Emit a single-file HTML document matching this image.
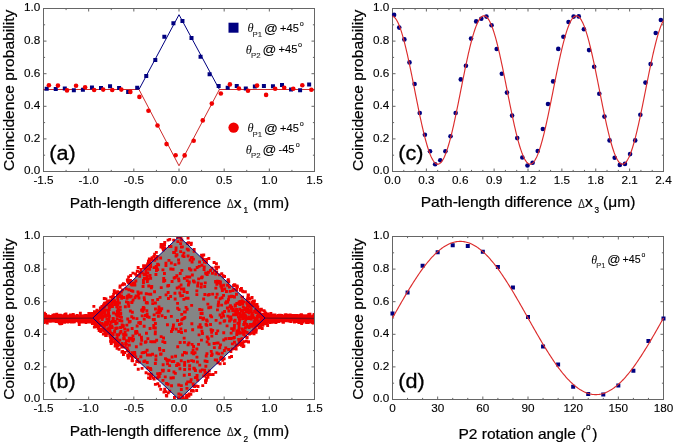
<!DOCTYPE html>
<html><head><meta charset="utf-8"><style>
html,body{margin:0;padding:0;background:#fff;overflow:hidden}
svg{display:block;will-change:transform}
.t{font-family:"Liberation Sans", sans-serif;font-size:11.2px;fill:#000;stroke:#000;stroke-width:0.12px}
.ax{font-family:"Liberation Sans", sans-serif;font-size:14.8px;fill:#000;stroke:#000;stroke-width:0.2px}
.pl{font-family:"Liberation Sans", sans-serif;font-size:21px;fill:#000;stroke:#000;stroke-width:0.3px}
.lg{font-family:"Liberation Sans", sans-serif;font-size:10.5px;fill:#000;stroke:#000;stroke-width:0.1px}
.th{font-family:"Liberation Serif", serif;font-style:italic;font-size:12px}
.dl{font-size:12.5px;fill:#444}
</style></head><body>
<svg width="675" height="445" viewBox="0 0 675 445">
<rect width="675" height="445" fill="#fff"/>
<path d="M43.50 171.5v-3M43.50 8.5v3M66.08 171.5v-1.6M66.08 8.5v1.6M88.67 171.5v-3M88.67 8.5v3M111.25 171.5v-1.6M111.25 8.5v1.6M133.83 171.5v-3M133.83 8.5v3M156.42 171.5v-1.6M156.42 8.5v1.6M179.00 171.5v-3M179.00 8.5v3M201.58 171.5v-1.6M201.58 8.5v1.6M224.17 171.5v-3M224.17 8.5v3M246.75 171.5v-1.6M246.75 8.5v1.6M269.33 171.5v-3M269.33 8.5v3M291.92 171.5v-1.6M291.92 8.5v1.6M314.50 171.5v-3M314.50 8.5v3M43.5 171.50h3M314.5 171.50h-3M43.5 155.20h1.6M314.5 155.20h-1.6M43.5 138.90h3M314.5 138.90h-3M43.5 122.60h1.6M314.5 122.60h-1.6M43.5 106.30h3M314.5 106.30h-3M43.5 90.00h1.6M314.5 90.00h-1.6M43.5 73.70h3M314.5 73.70h-3M43.5 57.40h1.6M314.5 57.40h-1.6M43.5 41.10h3M314.5 41.10h-3M43.5 24.80h1.6M314.5 24.80h-1.6M43.5 8.50h3M314.5 8.50h-3" stroke="#666" stroke-width="1" fill="none"/>
<rect x="43.5" y="8.5" width="271.0" height="163.0" stroke="#666" stroke-width="1" fill="none"/>
<path d="M43.50 89.50 L138.98 89.50 L179.00 14.69 L219.38 89.50 L314.50 89.50" stroke="#000080" stroke-width="1.0" fill="none" stroke-linejoin="round"/>
<path d="M43.50 89.50 L138.98 89.50 L179.00 165.79 L219.38 89.50 L314.50 89.50" stroke="#cc2b2b" stroke-width="1.0" fill="none" stroke-linejoin="round"/>
<path d="M44.70 86.80h4.0v4.0h-4.0zM53.75 87.00h4.0v4.0h-4.0zM62.80 86.50h4.0v4.0h-4.0zM71.85 88.30h4.0v4.0h-4.0zM80.90 87.70h4.0v4.0h-4.0zM89.95 85.50h4.0v4.0h-4.0zM99.00 86.10h4.0v4.0h-4.0zM108.05 84.30h4.0v4.0h-4.0zM117.10 86.10h4.0v4.0h-4.0zM126.15 89.90h4.0v4.0h-4.0zM135.20 85.70h4.0v4.0h-4.0zM144.25 74.10h4.0v4.0h-4.0zM153.30 57.90h4.0v4.0h-4.0zM162.35 34.80h4.0v4.0h-4.0zM171.40 21.30h4.0v4.0h-4.0zM180.45 18.90h4.0v4.0h-4.0zM189.50 36.10h4.0v4.0h-4.0zM198.55 54.70h4.0v4.0h-4.0zM207.60 72.30h4.0v4.0h-4.0zM216.65 84.00h4.0v4.0h-4.0zM225.70 85.80h4.0v4.0h-4.0zM234.75 84.00h4.0v4.0h-4.0zM243.80 86.50h4.0v4.0h-4.0zM252.85 84.60h4.0v4.0h-4.0zM261.90 83.90h4.0v4.0h-4.0zM270.95 84.30h4.0v4.0h-4.0zM280.00 83.10h4.0v4.0h-4.0zM289.05 87.60h4.0v4.0h-4.0zM298.10 88.30h4.0v4.0h-4.0zM307.15 82.50h4.0v4.0h-4.0z" fill="#000080"/>
<circle cx="48.90" cy="85.30" r="2.3" fill="#f00000"/>
<circle cx="57.95" cy="85.60" r="2.3" fill="#f00000"/>
<circle cx="67.00" cy="90.40" r="2.3" fill="#f00000"/>
<circle cx="76.05" cy="85.70" r="2.3" fill="#f00000"/>
<circle cx="85.10" cy="87.30" r="2.3" fill="#f00000"/>
<circle cx="94.15" cy="90.00" r="2.3" fill="#f00000"/>
<circle cx="103.20" cy="89.60" r="2.3" fill="#f00000"/>
<circle cx="112.25" cy="90.00" r="2.3" fill="#f00000"/>
<circle cx="121.30" cy="89.60" r="2.3" fill="#f00000"/>
<circle cx="130.35" cy="91.90" r="2.3" fill="#f00000"/>
<circle cx="139.40" cy="96.90" r="2.3" fill="#f00000"/>
<circle cx="148.45" cy="110.70" r="2.3" fill="#f00000"/>
<circle cx="157.50" cy="125.50" r="2.3" fill="#f00000"/>
<circle cx="166.55" cy="144.10" r="2.3" fill="#f00000"/>
<circle cx="175.60" cy="155.20" r="2.3" fill="#f00000"/>
<circle cx="184.65" cy="155.40" r="2.3" fill="#f00000"/>
<circle cx="193.70" cy="140.70" r="2.3" fill="#f00000"/>
<circle cx="202.75" cy="120.40" r="2.3" fill="#f00000"/>
<circle cx="211.80" cy="103.60" r="2.3" fill="#f00000"/>
<circle cx="220.85" cy="93.50" r="2.3" fill="#f00000"/>
<circle cx="229.90" cy="84.40" r="2.3" fill="#f00000"/>
<circle cx="238.95" cy="88.50" r="2.3" fill="#f00000"/>
<circle cx="248.00" cy="90.70" r="2.3" fill="#f00000"/>
<circle cx="257.05" cy="85.60" r="2.3" fill="#f00000"/>
<circle cx="266.10" cy="94.90" r="2.3" fill="#f00000"/>
<circle cx="275.15" cy="88.80" r="2.3" fill="#f00000"/>
<circle cx="284.20" cy="87.80" r="2.3" fill="#f00000"/>
<circle cx="293.25" cy="88.80" r="2.3" fill="#f00000"/>
<circle cx="302.30" cy="85.30" r="2.3" fill="#f00000"/>
<circle cx="311.35" cy="89.70" r="2.3" fill="#f00000"/>
<rect x="228.5" y="22.7" width="10" height="10" fill="#000080"/>
<circle cx="233.6" cy="127.6" r="5.2" fill="#f00000"/>
<text x="247.40" y="31.90" class="th" style="font-size:12.40px">&#952;</text>
<text x="252.60" y="36.50" class="lg" style="font-size:7.80px;fill:#333">P1</text>
<text transform="translate(264.10,32.55) scale(1.1,1)" class="lg" style="font-size:12.40px">@</text>
<text transform="translate(280.10,31.60) scale(1.01,1)" class="lg" style="font-size:11.00px">+45</text>
<text x="299.70" y="25.50" class="lg" style="font-size:7.20px">o</text>
<text x="245.80" y="53.50" class="th" style="font-size:12.40px">&#952;</text>
<text x="251.00" y="58.10" class="lg" style="font-size:7.80px;fill:#333">P2</text>
<text transform="translate(262.50,54.15) scale(1.1,1)" class="lg" style="font-size:12.40px">@</text>
<text transform="translate(278.50,53.20) scale(1.01,1)" class="lg" style="font-size:11.00px">+45</text>
<text x="298.10" y="47.10" class="lg" style="font-size:7.20px">o</text>
<text x="247.40" y="131.90" class="th" style="font-size:12.40px">&#952;</text>
<text x="252.60" y="136.50" class="lg" style="font-size:7.80px;fill:#333">P1</text>
<text transform="translate(264.10,132.55) scale(1.1,1)" class="lg" style="font-size:12.40px">@</text>
<text transform="translate(280.10,131.60) scale(1.01,1)" class="lg" style="font-size:11.00px">+45</text>
<text x="299.70" y="125.50" class="lg" style="font-size:7.20px">o</text>
<text x="245.80" y="153.60" class="th" style="font-size:12.40px">&#952;</text>
<text x="251.00" y="158.20" class="lg" style="font-size:7.80px;fill:#333">P2</text>
<text transform="translate(262.50,154.25) scale(1.1,1)" class="lg" style="font-size:12.40px">@</text>
<text transform="translate(278.50,153.30) scale(1.01,1)" class="lg" style="font-size:11.00px">-45</text>
<text x="295.80" y="147.20" class="lg" style="font-size:7.20px">o</text>
<path d="M43.50 399.5v-3M43.50 236.5v3M66.08 399.5v-1.6M66.08 236.5v1.6M88.67 399.5v-3M88.67 236.5v3M111.25 399.5v-1.6M111.25 236.5v1.6M133.83 399.5v-3M133.83 236.5v3M156.42 399.5v-1.6M156.42 236.5v1.6M179.00 399.5v-3M179.00 236.5v3M201.58 399.5v-1.6M201.58 236.5v1.6M224.17 399.5v-3M224.17 236.5v3M246.75 399.5v-1.6M246.75 236.5v1.6M269.33 399.5v-3M269.33 236.5v3M291.92 399.5v-1.6M291.92 236.5v1.6M314.50 399.5v-3M314.50 236.5v3M43.5 399.50h3M314.5 399.50h-3M43.5 383.20h1.6M314.5 383.20h-1.6M43.5 366.90h3M314.5 366.90h-3M43.5 350.60h1.6M314.5 350.60h-1.6M43.5 334.30h3M314.5 334.30h-3M43.5 318.00h1.6M314.5 318.00h-1.6M43.5 301.70h3M314.5 301.70h-3M43.5 285.40h1.6M314.5 285.40h-1.6M43.5 269.10h3M314.5 269.10h-3M43.5 252.80h1.6M314.5 252.80h-1.6M43.5 236.50h3M314.5 236.50h-3" stroke="#666" stroke-width="1" fill="none"/>
<rect x="43.5" y="236.5" width="271.0" height="163.0" stroke="#666" stroke-width="1" fill="none"/>
<path d="M92.91 318.00 L179.00 236.50 L265.09 318.00 L179.00 399.50Z" fill="#858585"/>
<clipPath id="cb"><rect x="44" y="237" width="270" height="162"/></clipPath>
<path d="M310.5 317.5h2.9v2.9h-2.9zM73.6 316.7h2.9v2.9h-2.9zM46.5 316.9h2.9v2.9h-2.9zM266.8 316.3h2.9v2.9h-2.9zM64.4 315.0h2.9v2.9h-2.9zM60.4 316.2h2.9v2.9h-2.9zM63.1 320.8h2.9v2.9h-2.9zM64.1 314.2h2.9v2.9h-2.9zM77.3 316.5h2.9v2.9h-2.9zM291.2 316.4h2.9v2.9h-2.9zM86.6 318.0h2.9v2.9h-2.9zM64.5 317.5h2.9v2.9h-2.9zM63.7 318.5h2.9v2.9h-2.9zM302.0 318.4h2.9v2.9h-2.9zM292.5 318.4h2.9v2.9h-2.9zM57.0 316.6h2.9v2.9h-2.9zM87.7 317.7h2.9v2.9h-2.9zM299.6 315.1h2.9v2.9h-2.9zM293.6 315.2h2.9v2.9h-2.9zM54.1 316.1h2.9v2.9h-2.9zM45.4 320.9h2.9v2.9h-2.9zM53.7 315.0h2.9v2.9h-2.9zM280.3 318.2h2.9v2.9h-2.9zM266.8 315.4h2.9v2.9h-2.9zM44.8 319.5h2.9v2.9h-2.9zM55.4 316.6h2.9v2.9h-2.9zM295.5 313.9h2.9v2.9h-2.9zM299.0 317.2h2.9v2.9h-2.9zM264.5 318.0h2.9v2.9h-2.9zM67.2 316.8h2.9v2.9h-2.9zM53.6 316.2h2.9v2.9h-2.9zM308.9 316.1h2.9v2.9h-2.9zM267.4 319.1h2.9v2.9h-2.9zM51.0 316.4h2.9v2.9h-2.9zM298.5 314.5h2.9v2.9h-2.9zM310.9 317.3h2.9v2.9h-2.9zM87.6 315.6h2.9v2.9h-2.9zM67.6 315.0h2.9v2.9h-2.9zM78.7 315.3h2.9v2.9h-2.9zM293.7 317.0h2.9v2.9h-2.9zM310.7 317.8h2.9v2.9h-2.9zM69.0 319.0h2.9v2.9h-2.9zM283.1 318.6h2.9v2.9h-2.9zM266.5 315.8h2.9v2.9h-2.9zM42.8 317.8h2.9v2.9h-2.9zM86.6 316.7h2.9v2.9h-2.9zM65.1 314.8h2.9v2.9h-2.9zM48.3 317.8h2.9v2.9h-2.9zM270.7 317.1h2.9v2.9h-2.9zM286.9 315.5h2.9v2.9h-2.9zM49.6 315.1h2.9v2.9h-2.9zM278.9 317.1h2.9v2.9h-2.9zM86.7 317.8h2.9v2.9h-2.9zM66.1 315.9h2.9v2.9h-2.9zM44.5 318.0h2.9v2.9h-2.9zM54.1 317.2h2.9v2.9h-2.9zM312.0 315.3h2.9v2.9h-2.9zM289.1 319.0h2.9v2.9h-2.9zM74.1 316.7h2.9v2.9h-2.9zM295.0 314.9h2.9v2.9h-2.9zM51.7 315.9h2.9v2.9h-2.9zM81.8 319.6h2.9v2.9h-2.9zM281.0 316.6h2.9v2.9h-2.9zM286.8 317.0h2.9v2.9h-2.9zM57.3 315.2h2.9v2.9h-2.9zM310.8 317.5h2.9v2.9h-2.9zM267.4 315.5h2.9v2.9h-2.9zM273.5 315.9h2.9v2.9h-2.9zM67.9 318.8h2.9v2.9h-2.9zM50.3 319.6h2.9v2.9h-2.9zM46.5 316.5h2.9v2.9h-2.9zM307.5 319.8h2.9v2.9h-2.9zM302.6 318.6h2.9v2.9h-2.9zM286.4 314.4h2.9v2.9h-2.9zM55.7 316.6h2.9v2.9h-2.9zM62.4 316.3h2.9v2.9h-2.9zM303.4 315.1h2.9v2.9h-2.9zM296.0 314.5h2.9v2.9h-2.9zM271.1 317.4h2.9v2.9h-2.9zM65.6 317.1h2.9v2.9h-2.9zM70.2 314.8h2.9v2.9h-2.9zM90.3 319.3h2.9v2.9h-2.9zM77.2 316.9h2.9v2.9h-2.9zM290.4 314.8h2.9v2.9h-2.9zM88.7 317.3h2.9v2.9h-2.9zM304.5 320.7h2.9v2.9h-2.9zM65.3 317.4h2.9v2.9h-2.9zM301.9 317.1h2.9v2.9h-2.9zM53.2 316.5h2.9v2.9h-2.9zM64.1 316.3h2.9v2.9h-2.9zM297.3 319.0h2.9v2.9h-2.9zM47.9 317.4h2.9v2.9h-2.9zM79.4 317.5h2.9v2.9h-2.9zM291.3 314.1h2.9v2.9h-2.9zM69.7 318.6h2.9v2.9h-2.9zM57.3 318.4h2.9v2.9h-2.9zM288.6 316.3h2.9v2.9h-2.9zM57.0 318.9h2.9v2.9h-2.9zM309.2 316.1h2.9v2.9h-2.9zM270.2 317.8h2.9v2.9h-2.9zM72.2 318.1h2.9v2.9h-2.9zM267.0 314.7h2.9v2.9h-2.9zM302.3 316.2h2.9v2.9h-2.9zM270.5 317.6h2.9v2.9h-2.9zM43.7 316.2h2.9v2.9h-2.9zM307.3 312.9h2.9v2.9h-2.9zM42.6 316.5h2.9v2.9h-2.9zM312.8 317.9h2.9v2.9h-2.9zM280.2 316.5h2.9v2.9h-2.9zM264.3 315.6h2.9v2.9h-2.9zM285.3 315.5h2.9v2.9h-2.9zM288.8 316.9h2.9v2.9h-2.9zM86.1 316.0h2.9v2.9h-2.9zM87.6 317.6h2.9v2.9h-2.9zM265.3 316.8h2.9v2.9h-2.9zM51.0 318.4h2.9v2.9h-2.9zM283.5 319.0h2.9v2.9h-2.9zM298.2 317.5h2.9v2.9h-2.9zM77.9 316.7h2.9v2.9h-2.9zM78.4 318.1h2.9v2.9h-2.9zM60.2 316.8h2.9v2.9h-2.9zM88.4 317.7h2.9v2.9h-2.9zM69.2 318.2h2.9v2.9h-2.9zM294.3 315.2h2.9v2.9h-2.9zM65.6 317.0h2.9v2.9h-2.9zM78.7 316.2h2.9v2.9h-2.9zM81.7 317.6h2.9v2.9h-2.9zM77.3 315.7h2.9v2.9h-2.9zM78.3 315.2h2.9v2.9h-2.9zM91.0 322.2h2.9v2.9h-2.9zM66.2 317.0h2.9v2.9h-2.9zM296.0 315.2h2.9v2.9h-2.9zM311.6 317.5h2.9v2.9h-2.9zM74.7 315.9h2.9v2.9h-2.9zM71.6 317.4h2.9v2.9h-2.9zM91.0 316.6h2.9v2.9h-2.9zM284.8 314.7h2.9v2.9h-2.9zM306.6 316.2h2.9v2.9h-2.9zM293.1 317.2h2.9v2.9h-2.9zM83.9 317.5h2.9v2.9h-2.9zM263.5 318.0h2.9v2.9h-2.9zM275.5 315.9h2.9v2.9h-2.9zM274.2 316.4h2.9v2.9h-2.9zM68.2 315.6h2.9v2.9h-2.9zM79.4 316.9h2.9v2.9h-2.9zM84.6 317.8h2.9v2.9h-2.9zM72.2 317.8h2.9v2.9h-2.9zM62.6 314.7h2.9v2.9h-2.9zM59.1 317.8h2.9v2.9h-2.9zM301.3 320.5h2.9v2.9h-2.9zM270.8 317.4h2.9v2.9h-2.9zM50.8 319.5h2.9v2.9h-2.9zM299.8 316.7h2.9v2.9h-2.9zM50.7 317.9h2.9v2.9h-2.9zM87.5 314.7h2.9v2.9h-2.9zM73.0 316.4h2.9v2.9h-2.9zM291.1 318.7h2.9v2.9h-2.9zM67.4 318.8h2.9v2.9h-2.9zM69.0 313.4h2.9v2.9h-2.9zM59.0 315.3h2.9v2.9h-2.9zM54.7 320.1h2.9v2.9h-2.9zM275.0 316.5h2.9v2.9h-2.9zM80.3 318.2h2.9v2.9h-2.9zM267.2 318.6h2.9v2.9h-2.9zM301.5 318.9h2.9v2.9h-2.9zM61.9 318.7h2.9v2.9h-2.9zM276.0 317.1h2.9v2.9h-2.9zM91.1 318.5h2.9v2.9h-2.9zM67.6 316.3h2.9v2.9h-2.9zM58.2 317.2h2.9v2.9h-2.9zM298.6 317.5h2.9v2.9h-2.9zM42.4 315.2h2.9v2.9h-2.9zM76.2 315.4h2.9v2.9h-2.9zM286.2 316.0h2.9v2.9h-2.9zM312.8 319.9h2.9v2.9h-2.9zM88.0 314.5h2.9v2.9h-2.9zM84.7 321.2h2.9v2.9h-2.9zM61.8 317.7h2.9v2.9h-2.9zM307.4 317.4h2.9v2.9h-2.9zM282.9 318.2h2.9v2.9h-2.9zM91.6 318.9h2.9v2.9h-2.9zM299.5 316.9h2.9v2.9h-2.9zM280.5 318.4h2.9v2.9h-2.9zM75.6 314.0h2.9v2.9h-2.9zM305.1 314.2h2.9v2.9h-2.9zM46.9 314.4h2.9v2.9h-2.9zM275.9 315.5h2.9v2.9h-2.9zM73.8 316.4h2.9v2.9h-2.9zM300.9 316.2h2.9v2.9h-2.9zM50.3 318.1h2.9v2.9h-2.9zM294.9 314.3h2.9v2.9h-2.9zM288.8 313.4h2.9v2.9h-2.9zM53.3 316.6h2.9v2.9h-2.9zM51.4 318.8h2.9v2.9h-2.9zM308.7 315.0h2.9v2.9h-2.9zM89.3 317.8h2.9v2.9h-2.9zM285.8 317.0h2.9v2.9h-2.9zM287.5 319.5h2.9v2.9h-2.9zM83.2 318.2h2.9v2.9h-2.9zM300.1 316.3h2.9v2.9h-2.9zM283.5 316.9h2.9v2.9h-2.9zM269.3 315.1h2.9v2.9h-2.9zM88.0 320.2h2.9v2.9h-2.9zM69.2 317.1h2.9v2.9h-2.9zM312.9 317.9h2.9v2.9h-2.9zM79.6 316.7h2.9v2.9h-2.9zM74.7 316.0h2.9v2.9h-2.9zM303.6 316.4h2.9v2.9h-2.9zM47.7 317.0h2.9v2.9h-2.9zM300.4 318.8h2.9v2.9h-2.9zM73.0 317.4h2.9v2.9h-2.9zM291.9 316.5h2.9v2.9h-2.9zM269.6 319.5h2.9v2.9h-2.9zM87.1 317.1h2.9v2.9h-2.9zM72.6 318.1h2.9v2.9h-2.9zM305.5 318.5h2.9v2.9h-2.9zM85.4 319.6h2.9v2.9h-2.9zM311.5 315.7h2.9v2.9h-2.9zM263.4 320.1h2.9v2.9h-2.9zM311.7 314.6h2.9v2.9h-2.9zM52.8 316.9h2.9v2.9h-2.9zM45.0 316.1h2.9v2.9h-2.9zM267.6 317.0h2.9v2.9h-2.9zM80.2 317.1h2.9v2.9h-2.9zM59.7 317.3h2.9v2.9h-2.9zM289.6 316.2h2.9v2.9h-2.9zM298.1 316.5h2.9v2.9h-2.9zM72.5 316.6h2.9v2.9h-2.9zM52.5 314.9h2.9v2.9h-2.9zM277.2 317.0h2.9v2.9h-2.9zM295.4 315.6h2.9v2.9h-2.9zM64.6 318.3h2.9v2.9h-2.9zM44.0 317.5h2.9v2.9h-2.9zM82.1 318.4h2.9v2.9h-2.9zM267.4 316.8h2.9v2.9h-2.9zM274.6 315.3h2.9v2.9h-2.9zM57.2 317.4h2.9v2.9h-2.9zM273.2 318.6h2.9v2.9h-2.9zM300.1 318.2h2.9v2.9h-2.9zM76.2 317.1h2.9v2.9h-2.9zM80.3 316.5h2.9v2.9h-2.9zM268.8 314.2h2.9v2.9h-2.9zM293.7 315.5h2.9v2.9h-2.9zM44.6 318.2h2.9v2.9h-2.9zM45.9 316.7h2.9v2.9h-2.9zM71.1 316.9h2.9v2.9h-2.9zM82.6 319.6h2.9v2.9h-2.9zM299.8 316.2h2.9v2.9h-2.9zM45.4 317.6h2.9v2.9h-2.9zM265.0 316.1h2.9v2.9h-2.9zM305.1 315.2h2.9v2.9h-2.9zM91.6 317.2h2.9v2.9h-2.9zM267.4 320.2h2.9v2.9h-2.9zM72.8 315.3h2.9v2.9h-2.9zM304.2 317.5h2.9v2.9h-2.9zM273.1 316.8h2.9v2.9h-2.9zM273.0 319.4h2.9v2.9h-2.9zM60.4 314.3h2.9v2.9h-2.9zM51.4 317.0h2.9v2.9h-2.9zM68.7 317.5h2.9v2.9h-2.9zM79.0 317.1h2.9v2.9h-2.9zM281.4 320.7h2.9v2.9h-2.9zM310.9 318.0h2.9v2.9h-2.9zM309.3 317.9h2.9v2.9h-2.9zM263.6 316.9h2.9v2.9h-2.9zM90.5 320.9h2.9v2.9h-2.9zM86.4 317.5h2.9v2.9h-2.9zM302.6 318.9h2.9v2.9h-2.9zM303.8 315.7h2.9v2.9h-2.9zM51.9 315.6h2.9v2.9h-2.9zM304.2 316.7h2.9v2.9h-2.9zM306.2 319.4h2.9v2.9h-2.9zM281.3 316.9h2.9v2.9h-2.9zM72.3 317.7h2.9v2.9h-2.9zM79.4 316.6h2.9v2.9h-2.9zM271.4 316.9h2.9v2.9h-2.9zM307.3 315.7h2.9v2.9h-2.9zM81.4 317.1h2.9v2.9h-2.9zM288.1 317.5h2.9v2.9h-2.9zM85.1 318.8h2.9v2.9h-2.9zM294.2 318.3h2.9v2.9h-2.9zM53.0 319.6h2.9v2.9h-2.9zM278.0 318.5h2.9v2.9h-2.9zM273.3 317.7h2.9v2.9h-2.9zM82.5 316.9h2.9v2.9h-2.9zM75.5 315.7h2.9v2.9h-2.9zM275.9 317.0h2.9v2.9h-2.9zM59.3 314.9h2.9v2.9h-2.9zM86.6 320.2h2.9v2.9h-2.9zM308.8 316.5h2.9v2.9h-2.9zM48.2 317.0h2.9v2.9h-2.9zM45.5 316.5h2.9v2.9h-2.9zM288.8 316.0h2.9v2.9h-2.9zM86.5 314.9h2.9v2.9h-2.9zM274.2 317.7h2.9v2.9h-2.9zM42.1 316.3h2.9v2.9h-2.9zM62.0 317.7h2.9v2.9h-2.9zM51.1 318.0h2.9v2.9h-2.9zM297.1 316.5h2.9v2.9h-2.9zM90.2 315.7h2.9v2.9h-2.9zM290.6 316.3h2.9v2.9h-2.9zM296.4 316.7h2.9v2.9h-2.9zM60.0 316.2h2.9v2.9h-2.9zM283.7 316.5h2.9v2.9h-2.9zM296.5 317.5h2.9v2.9h-2.9zM283.9 316.8h2.9v2.9h-2.9zM48.8 315.4h2.9v2.9h-2.9zM72.3 317.1h2.9v2.9h-2.9zM273.5 313.4h2.9v2.9h-2.9zM269.0 316.9h2.9v2.9h-2.9zM71.6 315.6h2.9v2.9h-2.9zM85.3 318.3h2.9v2.9h-2.9zM64.3 319.4h2.9v2.9h-2.9zM63.3 319.9h2.9v2.9h-2.9zM300.0 316.3h2.9v2.9h-2.9zM65.8 315.6h2.9v2.9h-2.9zM86.3 320.1h2.9v2.9h-2.9zM76.7 316.9h2.9v2.9h-2.9zM43.3 317.6h2.9v2.9h-2.9zM267.7 317.0h2.9v2.9h-2.9zM59.9 315.6h2.9v2.9h-2.9zM50.5 318.9h2.9v2.9h-2.9zM63.6 313.1h2.9v2.9h-2.9zM72.7 316.0h2.9v2.9h-2.9zM84.3 313.9h2.9v2.9h-2.9zM89.7 317.6h2.9v2.9h-2.9zM58.6 317.8h2.9v2.9h-2.9zM290.7 315.5h2.9v2.9h-2.9zM295.6 317.5h2.9v2.9h-2.9zM296.1 315.8h2.9v2.9h-2.9zM288.4 317.0h2.9v2.9h-2.9zM286.5 316.9h2.9v2.9h-2.9zM301.3 316.7h2.9v2.9h-2.9zM51.5 318.9h2.9v2.9h-2.9zM268.7 315.8h2.9v2.9h-2.9zM51.9 315.7h2.9v2.9h-2.9zM89.7 314.4h2.9v2.9h-2.9zM302.0 314.2h2.9v2.9h-2.9zM89.0 318.7h2.9v2.9h-2.9zM90.4 317.1h2.9v2.9h-2.9zM42.2 317.4h2.9v2.9h-2.9zM85.2 320.2h2.9v2.9h-2.9zM277.7 315.9h2.9v2.9h-2.9zM88.5 319.9h2.9v2.9h-2.9zM293.7 317.1h2.9v2.9h-2.9zM308.3 315.5h2.9v2.9h-2.9zM270.5 320.9h2.9v2.9h-2.9zM62.3 317.1h2.9v2.9h-2.9zM75.9 316.0h2.9v2.9h-2.9zM60.1 316.8h2.9v2.9h-2.9zM297.1 316.2h2.9v2.9h-2.9zM269.1 317.7h2.9v2.9h-2.9zM60.1 319.3h2.9v2.9h-2.9zM79.2 314.4h2.9v2.9h-2.9zM300.0 318.2h2.9v2.9h-2.9zM292.1 315.8h2.9v2.9h-2.9zM279.8 316.0h2.9v2.9h-2.9zM77.0 316.4h2.9v2.9h-2.9zM278.8 313.7h2.9v2.9h-2.9zM299.8 317.8h2.9v2.9h-2.9zM80.7 317.6h2.9v2.9h-2.9zM288.8 314.7h2.9v2.9h-2.9zM85.2 316.7h2.9v2.9h-2.9zM89.0 314.6h2.9v2.9h-2.9zM278.5 319.1h2.9v2.9h-2.9zM292.4 317.3h2.9v2.9h-2.9zM81.6 318.4h2.9v2.9h-2.9zM91.0 318.4h2.9v2.9h-2.9zM56.6 317.6h2.9v2.9h-2.9zM48.4 316.9h2.9v2.9h-2.9zM283.3 317.1h2.9v2.9h-2.9zM292.9 316.8h2.9v2.9h-2.9zM293.3 319.0h2.9v2.9h-2.9zM46.8 317.3h2.9v2.9h-2.9zM88.7 316.0h2.9v2.9h-2.9zM88.8 316.9h2.9v2.9h-2.9zM91.1 320.9h2.9v2.9h-2.9zM71.2 318.3h2.9v2.9h-2.9zM303.8 316.4h2.9v2.9h-2.9zM294.5 315.7h2.9v2.9h-2.9zM298.9 313.7h2.9v2.9h-2.9zM267.4 316.9h2.9v2.9h-2.9zM272.1 315.7h2.9v2.9h-2.9zM85.6 317.1h2.9v2.9h-2.9zM298.7 317.3h2.9v2.9h-2.9zM297.4 314.9h2.9v2.9h-2.9zM278.1 313.8h2.9v2.9h-2.9zM48.0 318.6h2.9v2.9h-2.9zM83.3 314.3h2.9v2.9h-2.9zM44.8 318.9h2.9v2.9h-2.9zM272.9 318.8h2.9v2.9h-2.9zM308.5 315.5h2.9v2.9h-2.9zM286.8 317.2h2.9v2.9h-2.9zM70.0 317.1h2.9v2.9h-2.9zM63.4 317.5h2.9v2.9h-2.9zM63.7 315.9h2.9v2.9h-2.9zM84.5 316.2h2.9v2.9h-2.9zM74.6 316.9h2.9v2.9h-2.9zM56.9 316.1h2.9v2.9h-2.9zM57.1 316.9h2.9v2.9h-2.9zM88.5 318.4h2.9v2.9h-2.9zM48.0 317.9h2.9v2.9h-2.9zM268.7 316.8h2.9v2.9h-2.9zM44.6 316.2h2.9v2.9h-2.9zM50.7 318.0h2.9v2.9h-2.9zM85.1 318.1h2.9v2.9h-2.9zM77.1 317.7h2.9v2.9h-2.9zM276.1 315.9h2.9v2.9h-2.9zM265.8 316.8h2.9v2.9h-2.9zM305.7 320.8h2.9v2.9h-2.9zM52.5 315.0h2.9v2.9h-2.9zM74.5 316.6h2.9v2.9h-2.9zM65.0 316.3h2.9v2.9h-2.9zM63.2 313.7h2.9v2.9h-2.9zM271.8 315.9h2.9v2.9h-2.9zM91.5 317.0h2.9v2.9h-2.9zM268.1 318.1h2.9v2.9h-2.9zM292.8 320.0h2.9v2.9h-2.9zM292.1 315.3h2.9v2.9h-2.9zM67.0 314.4h2.9v2.9h-2.9zM45.1 316.8h2.9v2.9h-2.9zM60.5 319.0h2.9v2.9h-2.9zM268.1 313.8h2.9v2.9h-2.9zM70.8 318.6h2.9v2.9h-2.9zM73.3 317.6h2.9v2.9h-2.9zM72.9 315.3h2.9v2.9h-2.9zM44.8 315.4h2.9v2.9h-2.9zM74.4 315.4h2.9v2.9h-2.9zM289.3 315.8h2.9v2.9h-2.9zM271.8 318.4h2.9v2.9h-2.9zM297.6 317.1h2.9v2.9h-2.9zM286.3 315.8h2.9v2.9h-2.9zM66.5 317.4h2.9v2.9h-2.9zM55.8 314.2h2.9v2.9h-2.9zM55.8 318.3h2.9v2.9h-2.9zM75.4 318.0h2.9v2.9h-2.9zM78.9 311.7h2.9v2.9h-2.9zM43.9 318.6h2.9v2.9h-2.9zM82.0 316.5h2.9v2.9h-2.9zM299.8 316.3h2.9v2.9h-2.9zM277.0 314.1h2.9v2.9h-2.9zM273.6 314.7h2.9v2.9h-2.9zM286.4 313.7h2.9v2.9h-2.9zM297.8 316.8h2.9v2.9h-2.9zM286.4 315.6h2.9v2.9h-2.9zM263.6 315.2h2.9v2.9h-2.9zM46.6 319.1h2.9v2.9h-2.9zM305.4 316.1h2.9v2.9h-2.9zM58.0 318.2h2.9v2.9h-2.9zM276.3 318.5h2.9v2.9h-2.9zM47.3 317.0h2.9v2.9h-2.9zM79.3 315.3h2.9v2.9h-2.9zM287.4 313.7h2.9v2.9h-2.9zM47.3 316.6h2.9v2.9h-2.9zM302.0 318.6h2.9v2.9h-2.9zM89.8 315.8h2.9v2.9h-2.9zM83.7 316.2h2.9v2.9h-2.9zM268.4 321.0h2.9v2.9h-2.9zM290.2 317.5h2.9v2.9h-2.9zM289.3 319.0h2.9v2.9h-2.9zM300.2 322.1h2.9v2.9h-2.9zM72.2 315.6h2.9v2.9h-2.9zM55.5 318.9h2.9v2.9h-2.9zM277.0 318.6h2.9v2.9h-2.9zM266.4 313.7h2.9v2.9h-2.9zM292.2 315.3h2.9v2.9h-2.9zM80.6 317.3h2.9v2.9h-2.9zM42.3 321.1h2.9v2.9h-2.9zM286.3 315.0h2.9v2.9h-2.9zM51.5 313.7h2.9v2.9h-2.9zM68.4 318.2h2.9v2.9h-2.9zM74.2 317.5h2.9v2.9h-2.9zM286.6 317.6h2.9v2.9h-2.9zM53.0 315.0h2.9v2.9h-2.9zM281.0 316.2h2.9v2.9h-2.9zM297.5 318.1h2.9v2.9h-2.9zM297.1 320.1h2.9v2.9h-2.9zM281.2 316.7h2.9v2.9h-2.9zM279.3 319.4h2.9v2.9h-2.9zM59.0 316.8h2.9v2.9h-2.9zM271.0 317.6h2.9v2.9h-2.9zM50.6 315.4h2.9v2.9h-2.9zM302.3 315.0h2.9v2.9h-2.9zM59.1 314.5h2.9v2.9h-2.9zM44.4 317.8h2.9v2.9h-2.9zM63.0 318.1h2.9v2.9h-2.9zM82.5 319.9h2.9v2.9h-2.9zM46.8 316.1h2.9v2.9h-2.9zM61.5 318.8h2.9v2.9h-2.9zM58.5 321.4h2.9v2.9h-2.9zM273.2 317.8h2.9v2.9h-2.9zM296.7 319.0h2.9v2.9h-2.9zM64.2 317.2h2.9v2.9h-2.9zM68.2 315.8h2.9v2.9h-2.9zM67.7 314.8h2.9v2.9h-2.9zM67.0 318.5h2.9v2.9h-2.9zM83.8 318.2h2.9v2.9h-2.9zM296.4 314.7h2.9v2.9h-2.9zM282.0 320.8h2.9v2.9h-2.9zM82.8 314.9h2.9v2.9h-2.9zM295.0 314.7h2.9v2.9h-2.9zM303.5 316.6h2.9v2.9h-2.9zM66.4 320.7h2.9v2.9h-2.9zM81.1 316.7h2.9v2.9h-2.9zM294.4 318.8h2.9v2.9h-2.9zM280.3 314.1h2.9v2.9h-2.9zM77.6 317.8h2.9v2.9h-2.9zM50.7 315.9h2.9v2.9h-2.9zM281.0 318.6h2.9v2.9h-2.9zM306.7 317.0h2.9v2.9h-2.9zM311.8 318.8h2.9v2.9h-2.9zM272.9 319.5h2.9v2.9h-2.9zM269.7 316.3h2.9v2.9h-2.9zM71.9 317.2h2.9v2.9h-2.9zM290.5 315.7h2.9v2.9h-2.9zM89.4 316.6h2.9v2.9h-2.9zM293.6 318.7h2.9v2.9h-2.9zM294.0 319.6h2.9v2.9h-2.9zM81.2 318.0h2.9v2.9h-2.9zM86.7 318.7h2.9v2.9h-2.9zM48.5 317.7h2.9v2.9h-2.9zM73.4 316.7h2.9v2.9h-2.9zM52.7 318.3h2.9v2.9h-2.9zM272.5 317.5h2.9v2.9h-2.9zM75.9 319.3h2.9v2.9h-2.9zM67.0 316.0h2.9v2.9h-2.9zM50.8 316.8h2.9v2.9h-2.9zM285.5 318.8h2.9v2.9h-2.9zM58.0 321.5h2.9v2.9h-2.9zM68.1 320.0h2.9v2.9h-2.9zM290.6 315.4h2.9v2.9h-2.9zM60.6 316.1h2.9v2.9h-2.9zM263.6 317.4h2.9v2.9h-2.9zM80.9 317.8h2.9v2.9h-2.9zM85.3 314.3h2.9v2.9h-2.9zM69.3 316.7h2.9v2.9h-2.9zM45.9 318.9h2.9v2.9h-2.9zM55.5 314.9h2.9v2.9h-2.9zM77.2 318.9h2.9v2.9h-2.9zM308.8 317.7h2.9v2.9h-2.9zM56.1 316.7h2.9v2.9h-2.9zM72.4 317.0h2.9v2.9h-2.9zM299.6 315.3h2.9v2.9h-2.9zM293.6 314.1h2.9v2.9h-2.9zM281.6 318.7h2.9v2.9h-2.9zM84.5 317.9h2.9v2.9h-2.9zM73.7 318.5h2.9v2.9h-2.9zM287.1 318.9h2.9v2.9h-2.9zM310.3 316.6h2.9v2.9h-2.9zM277.3 319.2h2.9v2.9h-2.9zM306.6 317.1h2.9v2.9h-2.9zM61.9 317.3h2.9v2.9h-2.9zM292.4 315.8h2.9v2.9h-2.9zM297.4 317.2h2.9v2.9h-2.9zM51.6 317.1h2.9v2.9h-2.9zM276.7 316.9h2.9v2.9h-2.9zM62.6 315.6h2.9v2.9h-2.9zM77.4 320.3h2.9v2.9h-2.9zM51.4 315.5h2.9v2.9h-2.9zM311.8 318.7h2.9v2.9h-2.9zM280.6 315.2h2.9v2.9h-2.9zM273.3 315.9h2.9v2.9h-2.9zM76.4 315.4h2.9v2.9h-2.9zM45.7 316.4h2.9v2.9h-2.9zM52.4 317.7h2.9v2.9h-2.9zM301.7 316.9h2.9v2.9h-2.9zM72.0 318.4h2.9v2.9h-2.9zM287.0 317.2h2.9v2.9h-2.9zM82.3 316.7h2.9v2.9h-2.9zM281.4 316.0h2.9v2.9h-2.9zM283.4 318.0h2.9v2.9h-2.9zM45.9 317.1h2.9v2.9h-2.9zM282.0 315.1h2.9v2.9h-2.9zM84.0 315.5h2.9v2.9h-2.9zM74.6 317.4h2.9v2.9h-2.9zM81.6 317.1h2.9v2.9h-2.9zM292.5 316.2h2.9v2.9h-2.9zM284.5 313.2h2.9v2.9h-2.9zM301.5 315.2h2.9v2.9h-2.9zM305.3 321.0h2.9v2.9h-2.9zM273.4 316.7h2.9v2.9h-2.9zM90.0 316.4h2.9v2.9h-2.9zM306.6 321.0h2.9v2.9h-2.9zM48.9 316.0h2.9v2.9h-2.9zM309.2 317.2h2.9v2.9h-2.9zM291.4 317.8h2.9v2.9h-2.9zM44.2 317.9h2.9v2.9h-2.9zM305.6 318.5h2.9v2.9h-2.9zM311.3 315.8h2.9v2.9h-2.9zM44.9 317.1h2.9v2.9h-2.9zM266.3 317.4h2.9v2.9h-2.9zM78.9 317.2h2.9v2.9h-2.9zM266.1 315.3h2.9v2.9h-2.9zM58.1 314.8h2.9v2.9h-2.9zM292.7 319.4h2.9v2.9h-2.9zM279.5 316.1h2.9v2.9h-2.9zM282.7 318.2h2.9v2.9h-2.9zM275.2 315.9h2.9v2.9h-2.9zM46.3 315.5h2.9v2.9h-2.9zM52.0 318.2h2.9v2.9h-2.9zM45.6 316.3h2.9v2.9h-2.9zM307.5 313.1h2.9v2.9h-2.9zM53.1 313.3h2.9v2.9h-2.9zM305.2 318.1h2.9v2.9h-2.9zM69.3 318.7h2.9v2.9h-2.9zM269.1 314.3h2.9v2.9h-2.9zM270.5 316.9h2.9v2.9h-2.9zM290.9 316.5h2.9v2.9h-2.9zM69.9 316.0h2.9v2.9h-2.9zM84.0 315.6h2.9v2.9h-2.9zM291.7 317.9h2.9v2.9h-2.9zM287.8 314.1h2.9v2.9h-2.9zM286.0 318.0h2.9v2.9h-2.9zM60.4 316.9h2.9v2.9h-2.9zM63.9 316.6h2.9v2.9h-2.9zM43.5 317.8h2.9v2.9h-2.9zM312.6 313.1h2.9v2.9h-2.9zM72.3 317.1h2.9v2.9h-2.9zM307.9 314.5h2.9v2.9h-2.9zM270.5 316.1h2.9v2.9h-2.9zM69.8 319.1h2.9v2.9h-2.9zM263.5 317.1h2.9v2.9h-2.9zM272.6 320.5h2.9v2.9h-2.9zM78.0 315.5h2.9v2.9h-2.9zM84.9 315.8h2.9v2.9h-2.9zM82.0 314.4h2.9v2.9h-2.9zM50.5 314.9h2.9v2.9h-2.9zM272.1 318.8h2.9v2.9h-2.9zM61.3 317.9h2.9v2.9h-2.9zM273.4 320.1h2.9v2.9h-2.9zM57.3 320.3h2.9v2.9h-2.9zM66.0 317.4h2.9v2.9h-2.9zM280.0 315.2h2.9v2.9h-2.9zM267.9 319.9h2.9v2.9h-2.9zM308.6 320.5h2.9v2.9h-2.9zM275.7 316.5h2.9v2.9h-2.9zM265.2 317.7h2.9v2.9h-2.9zM74.0 319.2h2.9v2.9h-2.9zM311.5 315.6h2.9v2.9h-2.9zM51.2 316.3h2.9v2.9h-2.9zM302.1 315.5h2.9v2.9h-2.9zM77.2 318.7h2.9v2.9h-2.9zM44.3 319.1h2.9v2.9h-2.9zM90.7 317.0h2.9v2.9h-2.9zM80.6 316.7h2.9v2.9h-2.9zM291.0 316.3h2.9v2.9h-2.9zM90.8 314.5h2.9v2.9h-2.9zM264.2 318.3h2.9v2.9h-2.9zM289.3 317.3h2.9v2.9h-2.9zM56.1 317.8h2.9v2.9h-2.9zM78.2 319.3h2.9v2.9h-2.9zM268.8 316.5h2.9v2.9h-2.9zM71.6 315.5h2.9v2.9h-2.9zM84.4 315.3h2.9v2.9h-2.9zM300.5 315.4h2.9v2.9h-2.9zM297.8 314.3h2.9v2.9h-2.9zM72.1 314.3h2.9v2.9h-2.9zM283.3 318.1h2.9v2.9h-2.9zM298.9 315.8h2.9v2.9h-2.9zM303.9 318.9h2.9v2.9h-2.9zM75.6 315.5h2.9v2.9h-2.9zM275.8 315.0h2.9v2.9h-2.9zM296.3 316.2h2.9v2.9h-2.9zM88.3 317.0h2.9v2.9h-2.9zM273.3 317.6h2.9v2.9h-2.9zM311.5 318.1h2.9v2.9h-2.9zM294.8 315.7h2.9v2.9h-2.9zM90.0 320.4h2.9v2.9h-2.9zM309.0 318.8h2.9v2.9h-2.9zM60.9 318.7h2.9v2.9h-2.9zM269.4 315.8h2.9v2.9h-2.9zM77.4 316.9h2.9v2.9h-2.9zM280.6 316.7h2.9v2.9h-2.9zM267.6 316.5h2.9v2.9h-2.9zM69.9 320.6h2.9v2.9h-2.9zM292.1 317.3h2.9v2.9h-2.9zM275.5 315.2h2.9v2.9h-2.9zM293.7 315.9h2.9v2.9h-2.9zM59.4 316.2h2.9v2.9h-2.9zM307.7 314.5h2.9v2.9h-2.9zM293.8 318.5h2.9v2.9h-2.9zM75.2 316.8h2.9v2.9h-2.9zM66.3 318.7h2.9v2.9h-2.9zM45.8 315.5h2.9v2.9h-2.9zM48.9 316.9h2.9v2.9h-2.9zM276.8 314.9h2.9v2.9h-2.9zM77.1 316.9h2.9v2.9h-2.9zM61.6 318.0h2.9v2.9h-2.9zM285.2 315.5h2.9v2.9h-2.9zM281.0 316.4h2.9v2.9h-2.9zM65.9 314.5h2.9v2.9h-2.9zM71.0 317.2h2.9v2.9h-2.9zM270.3 316.3h2.9v2.9h-2.9zM304.2 314.8h2.9v2.9h-2.9zM55.0 317.2h2.9v2.9h-2.9zM276.7 319.9h2.9v2.9h-2.9zM71.2 315.6h2.9v2.9h-2.9zM67.0 316.0h2.9v2.9h-2.9zM71.0 316.3h2.9v2.9h-2.9zM72.9 320.4h2.9v2.9h-2.9zM297.8 317.4h2.9v2.9h-2.9zM282.8 315.5h2.9v2.9h-2.9zM295.6 314.2h2.9v2.9h-2.9zM282.3 316.9h2.9v2.9h-2.9zM272.5 317.4h2.9v2.9h-2.9zM292.3 316.1h2.9v2.9h-2.9zM50.9 319.2h2.9v2.9h-2.9zM44.1 313.1h2.9v2.9h-2.9zM43.4 313.7h2.9v2.9h-2.9zM89.4 319.7h2.9v2.9h-2.9zM278.3 318.5h2.9v2.9h-2.9zM289.1 317.4h2.9v2.9h-2.9zM282.7 318.5h2.9v2.9h-2.9zM285.9 315.2h2.9v2.9h-2.9zM58.1 317.8h2.9v2.9h-2.9zM288.3 317.2h2.9v2.9h-2.9zM48.0 315.1h2.9v2.9h-2.9zM301.5 317.5h2.9v2.9h-2.9zM297.7 317.1h2.9v2.9h-2.9zM279.2 317.8h2.9v2.9h-2.9zM50.7 317.9h2.9v2.9h-2.9zM297.6 317.1h2.9v2.9h-2.9zM294.7 320.2h2.9v2.9h-2.9zM66.6 317.5h2.9v2.9h-2.9zM71.3 315.0h2.9v2.9h-2.9zM74.2 316.2h2.9v2.9h-2.9zM57.4 316.9h2.9v2.9h-2.9zM46.2 317.0h2.9v2.9h-2.9zM305.2 319.2h2.9v2.9h-2.9zM83.0 318.3h2.9v2.9h-2.9zM306.6 315.4h2.9v2.9h-2.9zM63.2 318.3h2.9v2.9h-2.9zM293.3 315.8h2.9v2.9h-2.9zM90.3 315.4h2.9v2.9h-2.9zM83.3 320.2h2.9v2.9h-2.9zM303.4 317.5h2.9v2.9h-2.9zM59.4 317.9h2.9v2.9h-2.9zM56.2 319.1h2.9v2.9h-2.9zM277.1 314.7h2.9v2.9h-2.9zM74.4 316.5h2.9v2.9h-2.9zM294.4 315.8h2.9v2.9h-2.9zM292.3 316.9h2.9v2.9h-2.9zM69.9 318.0h2.9v2.9h-2.9zM83.8 317.9h2.9v2.9h-2.9zM76.1 314.5h2.9v2.9h-2.9zM284.2 318.9h2.9v2.9h-2.9zM311.1 321.2h2.9v2.9h-2.9zM58.1 316.9h2.9v2.9h-2.9zM71.2 319.2h2.9v2.9h-2.9zM52.3 315.4h2.9v2.9h-2.9zM87.4 316.2h2.9v2.9h-2.9zM43.5 315.6h2.9v2.9h-2.9zM283.0 318.0h2.9v2.9h-2.9zM280.1 315.9h2.9v2.9h-2.9zM44.0 320.4h2.9v2.9h-2.9zM72.5 315.3h2.9v2.9h-2.9zM277.5 317.0h2.9v2.9h-2.9zM74.8 316.6h2.9v2.9h-2.9zM79.7 316.3h2.9v2.9h-2.9zM64.2 316.2h2.9v2.9h-2.9zM304.9 316.7h2.9v2.9h-2.9zM274.1 318.0h2.9v2.9h-2.9zM282.1 315.9h2.9v2.9h-2.9zM288.4 317.3h2.9v2.9h-2.9zM49.1 318.9h2.9v2.9h-2.9zM293.0 320.7h2.9v2.9h-2.9zM292.6 317.9h2.9v2.9h-2.9zM85.5 316.1h2.9v2.9h-2.9zM58.1 314.2h2.9v2.9h-2.9zM264.8 315.2h2.9v2.9h-2.9zM76.3 317.6h2.9v2.9h-2.9zM53.2 316.6h2.9v2.9h-2.9zM75.8 317.5h2.9v2.9h-2.9zM303.4 317.7h2.9v2.9h-2.9zM272.9 317.2h2.9v2.9h-2.9zM269.6 317.8h2.9v2.9h-2.9zM277.4 320.1h2.9v2.9h-2.9zM45.2 314.9h2.9v2.9h-2.9zM90.3 318.1h2.9v2.9h-2.9zM307.9 319.3h2.9v2.9h-2.9zM59.0 317.4h2.9v2.9h-2.9zM280.9 318.3h2.9v2.9h-2.9zM82.7 314.2h2.9v2.9h-2.9zM56.3 314.5h2.9v2.9h-2.9zM71.6 318.4h2.9v2.9h-2.9zM271.1 318.2h2.9v2.9h-2.9zM64.3 319.8h2.9v2.9h-2.9zM63.4 320.0h2.9v2.9h-2.9zM309.4 318.1h2.9v2.9h-2.9zM86.2 319.0h2.9v2.9h-2.9zM308.1 315.4h2.9v2.9h-2.9zM43.3 318.6h2.9v2.9h-2.9zM89.9 318.3h2.9v2.9h-2.9zM300.6 314.3h2.9v2.9h-2.9zM71.0 317.3h2.9v2.9h-2.9zM77.8 323.1h2.9v2.9h-2.9zM74.4 315.3h2.9v2.9h-2.9zM297.7 317.6h2.9v2.9h-2.9zM288.6 317.6h2.9v2.9h-2.9zM67.4 318.1h2.9v2.9h-2.9zM89.6 317.9h2.9v2.9h-2.9zM272.0 320.0h2.9v2.9h-2.9zM43.6 318.4h2.9v2.9h-2.9zM43.9 318.7h2.9v2.9h-2.9zM74.0 318.0h2.9v2.9h-2.9zM270.2 316.4h2.9v2.9h-2.9zM296.7 316.9h2.9v2.9h-2.9zM270.0 315.8h2.9v2.9h-2.9zM298.0 315.2h2.9v2.9h-2.9zM75.2 315.0h2.9v2.9h-2.9zM64.5 317.0h2.9v2.9h-2.9zM62.0 318.1h2.9v2.9h-2.9zM305.1 318.0h2.9v2.9h-2.9zM264.0 316.4h2.9v2.9h-2.9zM273.6 315.7h2.9v2.9h-2.9zM86.2 316.5h2.9v2.9h-2.9zM285.6 315.9h2.9v2.9h-2.9zM291.6 316.1h2.9v2.9h-2.9zM271.7 316.8h2.9v2.9h-2.9zM267.5 316.9h2.9v2.9h-2.9zM312.1 317.8h2.9v2.9h-2.9zM310.9 317.4h2.9v2.9h-2.9zM272.8 317.3h2.9v2.9h-2.9zM59.7 317.1h2.9v2.9h-2.9zM295.8 314.5h2.9v2.9h-2.9zM53.3 315.7h2.9v2.9h-2.9zM77.0 316.1h2.9v2.9h-2.9zM86.7 314.8h2.9v2.9h-2.9zM300.2 317.5h2.9v2.9h-2.9zM279.3 316.1h2.9v2.9h-2.9zM270.1 314.2h2.9v2.9h-2.9zM275.3 318.6h2.9v2.9h-2.9zM86.4 315.8h2.9v2.9h-2.9zM308.3 320.7h2.9v2.9h-2.9zM67.2 318.0h2.9v2.9h-2.9zM293.3 317.0h2.9v2.9h-2.9zM84.7 316.9h2.9v2.9h-2.9zM267.8 316.1h2.9v2.9h-2.9zM49.5 318.2h2.9v2.9h-2.9zM263.5 316.9h2.9v2.9h-2.9zM270.5 316.5h2.9v2.9h-2.9zM307.6 316.8h2.9v2.9h-2.9zM69.9 318.6h2.9v2.9h-2.9zM72.9 319.8h2.9v2.9h-2.9zM69.7 318.5h2.9v2.9h-2.9zM68.4 317.7h2.9v2.9h-2.9zM289.0 318.9h2.9v2.9h-2.9zM43.3 316.1h2.9v2.9h-2.9zM51.4 314.6h2.9v2.9h-2.9zM291.4 316.1h2.9v2.9h-2.9zM310.7 319.5h2.9v2.9h-2.9zM306.4 316.7h2.9v2.9h-2.9zM49.6 316.6h2.9v2.9h-2.9zM84.4 314.3h2.9v2.9h-2.9zM290.9 315.5h2.9v2.9h-2.9zM63.7 317.6h2.9v2.9h-2.9zM276.3 316.4h2.9v2.9h-2.9zM64.5 312.6h2.9v2.9h-2.9zM80.7 315.7h2.9v2.9h-2.9zM65.4 319.2h2.9v2.9h-2.9zM298.6 316.8h2.9v2.9h-2.9zM55.2 315.2h2.9v2.9h-2.9zM49.4 318.4h2.9v2.9h-2.9zM48.8 319.8h2.9v2.9h-2.9zM60.6 315.0h2.9v2.9h-2.9zM304.6 317.5h2.9v2.9h-2.9zM290.4 315.9h2.9v2.9h-2.9zM301.9 317.3h2.9v2.9h-2.9zM73.2 318.3h2.9v2.9h-2.9zM73.2 318.2h2.9v2.9h-2.9zM56.9 315.2h2.9v2.9h-2.9zM56.6 317.6h2.9v2.9h-2.9zM308.5 312.7h2.9v2.9h-2.9zM63.8 314.4h2.9v2.9h-2.9zM271.7 317.1h2.9v2.9h-2.9zM50.7 318.6h2.9v2.9h-2.9zM79.8 319.1h2.9v2.9h-2.9zM299.2 317.2h2.9v2.9h-2.9zM51.2 318.0h2.9v2.9h-2.9zM303.3 315.8h2.9v2.9h-2.9zM90.0 316.0h2.9v2.9h-2.9zM273.0 317.7h2.9v2.9h-2.9zM264.4 315.2h2.9v2.9h-2.9zM67.5 317.2h2.9v2.9h-2.9zM52.0 316.2h2.9v2.9h-2.9zM306.8 315.0h2.9v2.9h-2.9zM304.9 318.1h2.9v2.9h-2.9zM310.5 317.7h2.9v2.9h-2.9zM90.5 315.1h2.9v2.9h-2.9zM306.7 317.1h2.9v2.9h-2.9zM88.0 318.8h2.9v2.9h-2.9zM305.2 318.7h2.9v2.9h-2.9zM57.3 318.2h2.9v2.9h-2.9zM73.8 316.6h2.9v2.9h-2.9zM76.3 315.4h2.9v2.9h-2.9zM83.3 315.3h2.9v2.9h-2.9zM299.5 318.0h2.9v2.9h-2.9zM279.0 315.4h2.9v2.9h-2.9zM292.1 317.2h2.9v2.9h-2.9zM306.9 316.7h2.9v2.9h-2.9zM60.4 317.2h2.9v2.9h-2.9zM276.9 318.0h2.9v2.9h-2.9zM281.1 319.1h2.9v2.9h-2.9zM42.4 318.0h2.9v2.9h-2.9zM46.3 316.4h2.9v2.9h-2.9zM53.3 317.5h2.9v2.9h-2.9zM73.7 317.6h2.9v2.9h-2.9zM57.9 314.1h2.9v2.9h-2.9zM311.2 317.9h2.9v2.9h-2.9zM74.3 315.7h2.9v2.9h-2.9zM280.0 317.8h2.9v2.9h-2.9zM288.4 319.5h2.9v2.9h-2.9zM51.5 316.1h2.9v2.9h-2.9zM91.4 317.1h2.9v2.9h-2.9zM283.5 319.4h2.9v2.9h-2.9zM62.6 315.3h2.9v2.9h-2.9zM76.8 318.0h2.9v2.9h-2.9zM267.0 314.5h2.9v2.9h-2.9zM62.8 316.1h2.9v2.9h-2.9zM312.4 316.5h2.9v2.9h-2.9zM311.6 318.0h2.9v2.9h-2.9zM50.1 319.6h2.9v2.9h-2.9zM308.0 317.3h2.9v2.9h-2.9zM54.0 315.7h2.9v2.9h-2.9zM275.1 316.5h2.9v2.9h-2.9zM273.3 317.0h2.9v2.9h-2.9zM306.3 317.7h2.9v2.9h-2.9zM43.9 317.9h2.9v2.9h-2.9zM87.8 315.8h2.9v2.9h-2.9zM299.1 320.3h2.9v2.9h-2.9zM82.4 320.4h2.9v2.9h-2.9zM309.2 317.8h2.9v2.9h-2.9zM75.8 316.8h2.9v2.9h-2.9zM283.5 317.3h2.9v2.9h-2.9zM272.0 315.0h2.9v2.9h-2.9zM60.6 319.4h2.9v2.9h-2.9zM301.9 315.3h2.9v2.9h-2.9zM306.8 317.2h2.9v2.9h-2.9zM45.8 321.7h2.9v2.9h-2.9zM71.1 319.0h2.9v2.9h-2.9zM271.2 315.9h2.9v2.9h-2.9zM74.0 316.9h2.9v2.9h-2.9zM284.4 319.3h2.9v2.9h-2.9zM59.1 317.6h2.9v2.9h-2.9zM274.8 319.3h2.9v2.9h-2.9zM301.3 319.2h2.9v2.9h-2.9zM295.7 319.6h2.9v2.9h-2.9zM281.3 317.9h2.9v2.9h-2.9zM269.9 315.1h2.9v2.9h-2.9zM270.8 316.9h2.9v2.9h-2.9zM71.8 313.0h2.9v2.9h-2.9zM85.7 317.6h2.9v2.9h-2.9zM64.1 315.4h2.9v2.9h-2.9zM300.0 313.3h2.9v2.9h-2.9zM48.5 315.2h2.9v2.9h-2.9zM74.3 319.4h2.9v2.9h-2.9zM69.8 316.3h2.9v2.9h-2.9zM308.1 318.0h2.9v2.9h-2.9zM286.2 318.7h2.9v2.9h-2.9zM58.9 313.7h2.9v2.9h-2.9zM88.5 318.1h2.9v2.9h-2.9zM266.3 318.4h2.9v2.9h-2.9zM283.7 313.4h2.9v2.9h-2.9zM90.2 319.0h2.9v2.9h-2.9zM78.7 318.2h2.9v2.9h-2.9zM75.5 316.5h2.9v2.9h-2.9zM295.3 318.7h2.9v2.9h-2.9zM43.0 311.8h2.9v2.9h-2.9zM68.0 314.4h2.9v2.9h-2.9zM50.9 318.2h2.9v2.9h-2.9zM267.8 313.6h2.9v2.9h-2.9zM83.7 317.0h2.9v2.9h-2.9zM273.9 314.2h2.9v2.9h-2.9zM265.7 316.1h2.9v2.9h-2.9zM272.4 313.4h2.9v2.9h-2.9zM297.4 321.2h2.9v2.9h-2.9zM84.2 316.3h2.9v2.9h-2.9zM270.9 317.5h2.9v2.9h-2.9zM268.2 315.8h2.9v2.9h-2.9zM71.2 314.8h2.9v2.9h-2.9zM307.2 316.6h2.9v2.9h-2.9zM81.7 317.1h2.9v2.9h-2.9zM89.9 318.3h2.9v2.9h-2.9zM298.1 317.1h2.9v2.9h-2.9zM89.3 316.5h2.9v2.9h-2.9zM85.7 317.4h2.9v2.9h-2.9zM311.6 317.2h2.9v2.9h-2.9zM57.7 317.1h2.9v2.9h-2.9zM60.3 322.2h2.9v2.9h-2.9zM305.1 318.6h2.9v2.9h-2.9zM74.4 316.1h2.9v2.9h-2.9zM55.4 312.7h2.9v2.9h-2.9zM298.3 315.7h2.9v2.9h-2.9zM82.0 316.9h2.9v2.9h-2.9zM71.5 318.6h2.9v2.9h-2.9zM75.6 317.6h2.9v2.9h-2.9zM59.3 319.1h2.9v2.9h-2.9zM312.2 317.6h2.9v2.9h-2.9zM283.2 317.8h2.9v2.9h-2.9zM72.5 315.4h2.9v2.9h-2.9zM307.2 315.8h2.9v2.9h-2.9zM79.9 320.5h2.9v2.9h-2.9zM297.8 317.7h2.9v2.9h-2.9zM58.8 322.3h2.9v2.9h-2.9zM49.8 316.2h2.9v2.9h-2.9zM71.6 320.7h2.9v2.9h-2.9zM297.4 319.4h2.9v2.9h-2.9zM311.6 316.1h2.9v2.9h-2.9zM68.2 318.2h2.9v2.9h-2.9zM292.8 318.6h2.9v2.9h-2.9zM275.0 319.0h2.9v2.9h-2.9zM281.0 319.1h2.9v2.9h-2.9zM72.2 319.4h2.9v2.9h-2.9zM266.9 317.4h2.9v2.9h-2.9zM45.8 316.9h2.9v2.9h-2.9zM306.0 318.4h2.9v2.9h-2.9zM289.3 318.2h2.9v2.9h-2.9zM88.5 316.9h2.9v2.9h-2.9zM289.4 320.1h2.9v2.9h-2.9zM58.3 317.6h2.9v2.9h-2.9zM50.9 319.4h2.9v2.9h-2.9zM75.7 316.4h2.9v2.9h-2.9zM304.7 316.7h2.9v2.9h-2.9zM56.8 317.8h2.9v2.9h-2.9zM268.5 319.0h2.9v2.9h-2.9zM285.9 314.6h2.9v2.9h-2.9zM78.1 317.5h2.9v2.9h-2.9zM69.4 315.2h2.9v2.9h-2.9zM299.7 316.1h2.9v2.9h-2.9zM57.9 315.2h2.9v2.9h-2.9zM287.7 318.3h2.9v2.9h-2.9zM303.2 319.1h2.9v2.9h-2.9zM264.2 316.4h2.9v2.9h-2.9zM62.4 314.9h2.9v2.9h-2.9zM299.0 317.3h2.9v2.9h-2.9zM78.5 315.5h2.9v2.9h-2.9zM267.9 319.3h2.9v2.9h-2.9zM85.4 319.6h2.9v2.9h-2.9zM294.1 317.4h2.9v2.9h-2.9zM282.0 316.7h2.9v2.9h-2.9zM56.3 317.5h2.9v2.9h-2.9zM280.9 315.4h2.9v2.9h-2.9zM305.6 315.4h2.9v2.9h-2.9zM266.5 315.3h2.9v2.9h-2.9zM75.4 314.4h2.9v2.9h-2.9zM282.9 315.8h2.9v2.9h-2.9zM288.0 314.7h2.9v2.9h-2.9zM86.4 318.7h2.9v2.9h-2.9zM309.8 317.6h2.9v2.9h-2.9zM272.1 318.8h2.9v2.9h-2.9zM69.9 319.1h2.9v2.9h-2.9zM58.4 316.9h2.9v2.9h-2.9zM71.8 314.5h2.9v2.9h-2.9zM301.6 316.4h2.9v2.9h-2.9zM269.2 316.9h2.9v2.9h-2.9zM86.7 316.4h2.9v2.9h-2.9zM49.6 316.6h2.9v2.9h-2.9zM56.4 315.2h2.9v2.9h-2.9zM306.2 319.7h2.9v2.9h-2.9zM42.1 317.9h2.9v2.9h-2.9zM48.4 316.1h2.9v2.9h-2.9zM82.5 315.8h2.9v2.9h-2.9zM289.2 315.6h2.9v2.9h-2.9zM291.0 316.2h2.9v2.9h-2.9zM297.2 317.5h2.9v2.9h-2.9zM303.2 315.8h2.9v2.9h-2.9zM278.5 316.2h2.9v2.9h-2.9zM309.7 316.2h2.9v2.9h-2.9zM298.6 314.5h2.9v2.9h-2.9zM273.3 314.0h2.9v2.9h-2.9zM55.5 316.4h2.9v2.9h-2.9zM265.1 317.0h2.9v2.9h-2.9zM52.2 317.7h2.9v2.9h-2.9zM283.5 314.4h2.9v2.9h-2.9zM273.5 316.7h2.9v2.9h-2.9zM89.3 316.0h2.9v2.9h-2.9zM51.3 317.3h2.9v2.9h-2.9zM67.0 317.0h2.9v2.9h-2.9zM303.2 318.0h2.9v2.9h-2.9zM66.1 317.3h2.9v2.9h-2.9zM268.1 316.1h2.9v2.9h-2.9zM274.5 321.1h2.9v2.9h-2.9zM298.5 318.7h2.9v2.9h-2.9zM45.8 316.4h2.9v2.9h-2.9zM89.7 316.3h2.9v2.9h-2.9zM48.3 318.3h2.9v2.9h-2.9zM298.5 317.3h2.9v2.9h-2.9zM279.5 318.5h2.9v2.9h-2.9zM84.2 315.6h2.9v2.9h-2.9zM311.8 321.6h2.9v2.9h-2.9zM282.2 317.8h2.9v2.9h-2.9zM81.9 318.0h2.9v2.9h-2.9zM55.6 319.4h2.9v2.9h-2.9zM89.8 315.9h2.9v2.9h-2.9zM269.4 312.0h2.9v2.9h-2.9zM77.3 319.7h2.9v2.9h-2.9zM264.2 316.3h2.9v2.9h-2.9zM81.8 320.6h2.9v2.9h-2.9zM306.3 318.8h2.9v2.9h-2.9zM81.7 318.3h2.9v2.9h-2.9zM172.2 251.0h2.9v2.9h-2.9zM192.0 257.7h2.9v2.9h-2.9zM122.3 296.0h2.9v2.9h-2.9zM174.1 354.8h2.9v2.9h-2.9zM107.0 311.0h2.9v2.9h-2.9zM107.6 305.1h2.9v2.9h-2.9zM93.7 313.0h2.9v2.9h-2.9zM162.3 276.9h2.9v2.9h-2.9zM218.7 321.7h2.9v2.9h-2.9zM88.1 317.6h2.9v2.9h-2.9zM134.4 279.6h2.9v2.9h-2.9zM185.0 351.6h2.9v2.9h-2.9zM189.9 241.7h2.9v2.9h-2.9zM187.5 281.6h2.9v2.9h-2.9zM183.8 310.7h2.9v2.9h-2.9zM230.2 327.2h2.9v2.9h-2.9zM221.6 274.3h2.9v2.9h-2.9zM163.8 375.4h2.9v2.9h-2.9zM190.2 359.2h2.9v2.9h-2.9zM179.9 384.2h2.9v2.9h-2.9zM148.2 267.9h2.9v2.9h-2.9zM142.1 307.9h2.9v2.9h-2.9zM120.2 294.7h2.9v2.9h-2.9zM114.0 341.9h2.9v2.9h-2.9zM231.3 309.4h2.9v2.9h-2.9zM215.2 271.1h2.9v2.9h-2.9zM246.3 296.5h2.9v2.9h-2.9zM196.2 378.7h2.9v2.9h-2.9zM153.3 258.9h2.9v2.9h-2.9zM176.2 306.8h2.9v2.9h-2.9zM134.1 330.3h2.9v2.9h-2.9zM229.7 331.7h2.9v2.9h-2.9zM156.9 314.8h2.9v2.9h-2.9zM205.6 360.0h2.9v2.9h-2.9zM228.7 289.9h2.9v2.9h-2.9zM188.7 258.5h2.9v2.9h-2.9zM255.8 308.5h2.9v2.9h-2.9zM200.5 308.4h2.9v2.9h-2.9zM155.7 255.0h2.9v2.9h-2.9zM207.0 270.8h2.9v2.9h-2.9zM142.3 266.6h2.9v2.9h-2.9zM161.4 340.2h2.9v2.9h-2.9zM185.8 247.7h2.9v2.9h-2.9zM147.9 257.4h2.9v2.9h-2.9zM247.9 332.7h2.9v2.9h-2.9zM200.5 329.7h2.9v2.9h-2.9zM147.3 284.5h2.9v2.9h-2.9zM246.6 293.5h2.9v2.9h-2.9zM144.8 301.4h2.9v2.9h-2.9zM157.8 375.1h2.9v2.9h-2.9zM131.6 298.6h2.9v2.9h-2.9zM219.9 355.7h2.9v2.9h-2.9zM223.3 319.2h2.9v2.9h-2.9zM135.3 330.0h2.9v2.9h-2.9zM215.4 282.3h2.9v2.9h-2.9zM176.3 345.3h2.9v2.9h-2.9zM245.3 301.0h2.9v2.9h-2.9zM179.8 322.2h2.9v2.9h-2.9zM258.5 324.2h2.9v2.9h-2.9zM121.1 288.4h2.9v2.9h-2.9zM267.5 313.6h2.9v2.9h-2.9zM130.9 310.8h2.9v2.9h-2.9zM186.3 380.4h2.9v2.9h-2.9zM176.3 235.7h2.9v2.9h-2.9zM250.3 314.4h2.9v2.9h-2.9zM248.7 332.2h2.9v2.9h-2.9zM142.9 276.8h2.9v2.9h-2.9zM227.6 337.1h2.9v2.9h-2.9zM248.2 302.6h2.9v2.9h-2.9zM152.6 318.4h2.9v2.9h-2.9zM107.5 317.5h2.9v2.9h-2.9zM248.5 297.7h2.9v2.9h-2.9zM184.0 329.3h2.9v2.9h-2.9zM216.8 280.7h2.9v2.9h-2.9zM109.1 339.8h2.9v2.9h-2.9zM142.4 360.2h2.9v2.9h-2.9zM264.4 322.3h2.9v2.9h-2.9zM238.0 338.2h2.9v2.9h-2.9zM119.1 343.4h2.9v2.9h-2.9zM229.9 294.7h2.9v2.9h-2.9zM177.5 279.3h2.9v2.9h-2.9zM161.9 248.7h2.9v2.9h-2.9zM125.7 346.5h2.9v2.9h-2.9zM129.8 354.3h2.9v2.9h-2.9zM218.9 281.9h2.9v2.9h-2.9zM240.7 313.6h2.9v2.9h-2.9zM138.3 274.9h2.9v2.9h-2.9zM204.2 271.4h2.9v2.9h-2.9zM249.1 315.4h2.9v2.9h-2.9zM250.5 322.9h2.9v2.9h-2.9zM190.0 256.3h2.9v2.9h-2.9zM109.2 295.7h2.9v2.9h-2.9zM169.9 314.9h2.9v2.9h-2.9zM193.9 376.2h2.9v2.9h-2.9zM184.4 397.4h2.9v2.9h-2.9zM261.5 318.2h2.9v2.9h-2.9zM187.8 280.6h2.9v2.9h-2.9zM216.0 308.4h2.9v2.9h-2.9zM233.7 318.8h2.9v2.9h-2.9zM103.4 305.0h2.9v2.9h-2.9zM259.7 308.7h2.9v2.9h-2.9zM183.2 361.1h2.9v2.9h-2.9zM203.2 368.7h2.9v2.9h-2.9zM198.8 369.6h2.9v2.9h-2.9zM117.1 314.5h2.9v2.9h-2.9zM227.7 295.3h2.9v2.9h-2.9zM123.6 330.9h2.9v2.9h-2.9zM220.8 351.7h2.9v2.9h-2.9zM151.2 298.9h2.9v2.9h-2.9zM188.0 373.1h2.9v2.9h-2.9zM144.2 350.7h2.9v2.9h-2.9zM163.3 279.1h2.9v2.9h-2.9zM149.2 276.9h2.9v2.9h-2.9zM102.2 325.7h2.9v2.9h-2.9zM249.3 315.5h2.9v2.9h-2.9zM151.1 352.8h2.9v2.9h-2.9zM137.5 296.6h2.9v2.9h-2.9zM116.3 297.1h2.9v2.9h-2.9zM112.2 311.5h2.9v2.9h-2.9zM263.0 318.7h2.9v2.9h-2.9zM190.7 342.9h2.9v2.9h-2.9zM226.1 283.8h2.9v2.9h-2.9zM124.2 342.1h2.9v2.9h-2.9zM166.7 291.1h2.9v2.9h-2.9zM252.4 316.2h2.9v2.9h-2.9zM117.7 291.2h2.9v2.9h-2.9zM216.7 304.3h2.9v2.9h-2.9zM156.2 262.7h2.9v2.9h-2.9zM88.1 317.2h2.9v2.9h-2.9zM131.1 283.6h2.9v2.9h-2.9zM87.4 312.1h2.9v2.9h-2.9zM227.3 280.3h2.9v2.9h-2.9zM191.7 382.4h2.9v2.9h-2.9zM260.0 322.3h2.9v2.9h-2.9zM113.1 330.4h2.9v2.9h-2.9zM156.2 268.2h2.9v2.9h-2.9zM92.6 322.2h2.9v2.9h-2.9zM230.3 305.7h2.9v2.9h-2.9zM198.3 308.1h2.9v2.9h-2.9zM178.8 272.0h2.9v2.9h-2.9zM215.2 267.5h2.9v2.9h-2.9zM181.1 353.6h2.9v2.9h-2.9zM130.4 351.3h2.9v2.9h-2.9zM140.6 366.9h2.9v2.9h-2.9zM147.7 292.7h2.9v2.9h-2.9zM225.9 306.5h2.9v2.9h-2.9zM264.9 313.2h2.9v2.9h-2.9zM223.1 275.1h2.9v2.9h-2.9zM97.9 321.1h2.9v2.9h-2.9zM97.1 325.5h2.9v2.9h-2.9zM133.4 283.5h2.9v2.9h-2.9zM116.5 307.3h2.9v2.9h-2.9zM172.7 276.5h2.9v2.9h-2.9zM89.6 315.7h2.9v2.9h-2.9zM185.5 396.4h2.9v2.9h-2.9zM149.1 265.0h2.9v2.9h-2.9zM93.6 313.2h2.9v2.9h-2.9zM109.2 336.7h2.9v2.9h-2.9zM96.9 317.5h2.9v2.9h-2.9zM181.0 294.2h2.9v2.9h-2.9zM126.6 301.0h2.9v2.9h-2.9zM258.4 322.3h2.9v2.9h-2.9zM258.5 321.2h2.9v2.9h-2.9zM103.8 308.6h2.9v2.9h-2.9zM205.7 319.5h2.9v2.9h-2.9zM157.9 311.3h2.9v2.9h-2.9zM100.5 305.5h2.9v2.9h-2.9zM179.4 327.6h2.9v2.9h-2.9zM249.8 317.5h2.9v2.9h-2.9zM266.0 317.8h2.9v2.9h-2.9zM145.5 300.9h2.9v2.9h-2.9zM125.0 339.2h2.9v2.9h-2.9zM200.1 276.3h2.9v2.9h-2.9zM206.8 337.3h2.9v2.9h-2.9zM95.5 323.7h2.9v2.9h-2.9zM192.7 247.9h2.9v2.9h-2.9zM135.7 331.4h2.9v2.9h-2.9zM154.0 322.1h2.9v2.9h-2.9zM117.2 290.9h2.9v2.9h-2.9zM255.6 304.5h2.9v2.9h-2.9zM225.0 290.1h2.9v2.9h-2.9zM88.6 316.4h2.9v2.9h-2.9zM153.9 330.4h2.9v2.9h-2.9zM187.5 394.7h2.9v2.9h-2.9zM174.8 327.7h2.9v2.9h-2.9zM135.3 360.0h2.9v2.9h-2.9zM148.4 262.1h2.9v2.9h-2.9zM197.6 333.4h2.9v2.9h-2.9zM98.0 328.5h2.9v2.9h-2.9zM144.4 272.1h2.9v2.9h-2.9zM171.9 376.3h2.9v2.9h-2.9zM104.9 334.0h2.9v2.9h-2.9zM214.3 370.9h2.9v2.9h-2.9zM233.8 304.3h2.9v2.9h-2.9zM93.0 313.5h2.9v2.9h-2.9zM157.2 263.4h2.9v2.9h-2.9zM94.8 314.4h2.9v2.9h-2.9zM170.0 330.1h2.9v2.9h-2.9zM240.8 299.2h2.9v2.9h-2.9zM123.2 282.9h2.9v2.9h-2.9zM117.1 333.3h2.9v2.9h-2.9zM241.4 330.7h2.9v2.9h-2.9zM250.9 312.0h2.9v2.9h-2.9zM136.2 358.0h2.9v2.9h-2.9zM119.3 312.1h2.9v2.9h-2.9zM238.4 311.9h2.9v2.9h-2.9zM173.0 396.1h2.9v2.9h-2.9zM136.7 266.0h2.9v2.9h-2.9zM111.7 333.1h2.9v2.9h-2.9zM235.3 308.3h2.9v2.9h-2.9zM190.2 303.9h2.9v2.9h-2.9zM215.9 279.7h2.9v2.9h-2.9zM235.3 343.8h2.9v2.9h-2.9zM112.2 295.9h2.9v2.9h-2.9zM141.5 309.9h2.9v2.9h-2.9zM183.0 351.1h2.9v2.9h-2.9zM181.5 395.4h2.9v2.9h-2.9zM156.2 298.1h2.9v2.9h-2.9zM161.7 245.4h2.9v2.9h-2.9zM97.5 323.4h2.9v2.9h-2.9zM146.5 267.7h2.9v2.9h-2.9zM259.9 307.8h2.9v2.9h-2.9zM145.8 361.1h2.9v2.9h-2.9zM159.7 335.2h2.9v2.9h-2.9zM215.2 358.5h2.9v2.9h-2.9zM202.8 265.5h2.9v2.9h-2.9zM179.3 294.3h2.9v2.9h-2.9zM147.2 372.5h2.9v2.9h-2.9zM224.2 301.6h2.9v2.9h-2.9zM158.4 348.4h2.9v2.9h-2.9zM186.6 296.8h2.9v2.9h-2.9zM153.9 362.1h2.9v2.9h-2.9zM98.9 306.5h2.9v2.9h-2.9zM194.8 376.0h2.9v2.9h-2.9zM92.5 320.8h2.9v2.9h-2.9zM118.7 331.5h2.9v2.9h-2.9zM91.5 312.2h2.9v2.9h-2.9zM100.5 322.0h2.9v2.9h-2.9zM222.3 283.8h2.9v2.9h-2.9zM135.2 274.1h2.9v2.9h-2.9zM263.1 319.2h2.9v2.9h-2.9zM196.6 281.6h2.9v2.9h-2.9zM238.8 340.0h2.9v2.9h-2.9zM100.3 328.9h2.9v2.9h-2.9zM114.7 312.8h2.9v2.9h-2.9zM199.7 285.7h2.9v2.9h-2.9zM165.9 359.0h2.9v2.9h-2.9zM222.9 362.2h2.9v2.9h-2.9zM147.2 259.5h2.9v2.9h-2.9zM125.4 323.7h2.9v2.9h-2.9zM122.0 282.2h2.9v2.9h-2.9zM98.4 327.8h2.9v2.9h-2.9zM214.4 286.7h2.9v2.9h-2.9zM142.6 306.8h2.9v2.9h-2.9zM140.2 338.8h2.9v2.9h-2.9zM131.5 271.7h2.9v2.9h-2.9zM229.0 304.2h2.9v2.9h-2.9zM100.8 318.0h2.9v2.9h-2.9zM99.3 316.3h2.9v2.9h-2.9zM256.7 314.6h2.9v2.9h-2.9zM228.1 319.5h2.9v2.9h-2.9zM103.1 301.8h2.9v2.9h-2.9zM242.3 290.4h2.9v2.9h-2.9zM93.6 313.4h2.9v2.9h-2.9zM148.8 377.1h2.9v2.9h-2.9zM220.2 303.7h2.9v2.9h-2.9zM183.0 340.9h2.9v2.9h-2.9zM160.6 314.3h2.9v2.9h-2.9zM233.0 323.8h2.9v2.9h-2.9zM186.9 248.5h2.9v2.9h-2.9zM217.3 352.4h2.9v2.9h-2.9zM224.3 346.5h2.9v2.9h-2.9zM229.5 315.6h2.9v2.9h-2.9zM232.1 284.0h2.9v2.9h-2.9zM234.3 310.2h2.9v2.9h-2.9zM240.5 337.3h2.9v2.9h-2.9zM87.2 316.2h2.9v2.9h-2.9zM94.3 321.8h2.9v2.9h-2.9zM144.6 340.2h2.9v2.9h-2.9zM138.5 271.1h2.9v2.9h-2.9zM209.3 305.8h2.9v2.9h-2.9zM203.6 359.6h2.9v2.9h-2.9zM114.4 326.8h2.9v2.9h-2.9zM142.7 296.2h2.9v2.9h-2.9zM97.1 310.3h2.9v2.9h-2.9zM242.1 311.4h2.9v2.9h-2.9zM251.8 299.5h2.9v2.9h-2.9zM170.6 280.0h2.9v2.9h-2.9zM152.4 254.9h2.9v2.9h-2.9zM91.8 319.3h2.9v2.9h-2.9zM96.7 321.9h2.9v2.9h-2.9zM202.6 268.0h2.9v2.9h-2.9zM144.8 292.3h2.9v2.9h-2.9zM195.6 373.9h2.9v2.9h-2.9zM167.8 358.8h2.9v2.9h-2.9zM254.8 310.2h2.9v2.9h-2.9zM189.9 389.3h2.9v2.9h-2.9zM267.7 316.3h2.9v2.9h-2.9zM180.3 318.4h2.9v2.9h-2.9zM97.7 314.3h2.9v2.9h-2.9zM115.7 336.2h2.9v2.9h-2.9zM266.4 315.7h2.9v2.9h-2.9zM223.1 310.1h2.9v2.9h-2.9zM249.8 304.9h2.9v2.9h-2.9zM204.5 272.4h2.9v2.9h-2.9zM97.2 310.0h2.9v2.9h-2.9zM216.3 329.4h2.9v2.9h-2.9zM125.8 294.8h2.9v2.9h-2.9zM92.7 315.3h2.9v2.9h-2.9zM200.8 275.6h2.9v2.9h-2.9zM250.4 314.8h2.9v2.9h-2.9zM129.2 274.0h2.9v2.9h-2.9zM217.6 279.9h2.9v2.9h-2.9zM238.3 343.0h2.9v2.9h-2.9zM175.5 253.3h2.9v2.9h-2.9zM162.2 349.1h2.9v2.9h-2.9zM126.3 354.4h2.9v2.9h-2.9zM128.4 295.7h2.9v2.9h-2.9zM166.0 323.3h2.9v2.9h-2.9zM109.7 320.8h2.9v2.9h-2.9zM239.0 314.8h2.9v2.9h-2.9zM180.9 397.4h2.9v2.9h-2.9zM177.6 308.2h2.9v2.9h-2.9zM105.4 317.8h2.9v2.9h-2.9zM214.6 318.9h2.9v2.9h-2.9zM94.7 317.1h2.9v2.9h-2.9zM179.2 242.2h2.9v2.9h-2.9zM205.1 318.6h2.9v2.9h-2.9zM211.2 328.9h2.9v2.9h-2.9zM126.9 302.1h2.9v2.9h-2.9zM186.9 359.8h2.9v2.9h-2.9zM263.5 313.9h2.9v2.9h-2.9zM136.8 367.8h2.9v2.9h-2.9zM146.0 264.7h2.9v2.9h-2.9zM133.2 350.9h2.9v2.9h-2.9zM231.8 307.8h2.9v2.9h-2.9zM89.4 319.5h2.9v2.9h-2.9zM155.4 257.4h2.9v2.9h-2.9zM220.3 286.7h2.9v2.9h-2.9zM109.3 331.4h2.9v2.9h-2.9zM113.2 300.5h2.9v2.9h-2.9zM94.4 314.6h2.9v2.9h-2.9zM201.0 332.0h2.9v2.9h-2.9zM102.4 307.5h2.9v2.9h-2.9zM146.4 337.2h2.9v2.9h-2.9zM122.9 337.3h2.9v2.9h-2.9zM109.1 305.1h2.9v2.9h-2.9zM174.5 248.9h2.9v2.9h-2.9zM117.1 310.4h2.9v2.9h-2.9zM199.6 312.0h2.9v2.9h-2.9zM247.0 293.5h2.9v2.9h-2.9zM206.5 375.8h2.9v2.9h-2.9zM95.9 317.6h2.9v2.9h-2.9zM115.5 333.2h2.9v2.9h-2.9zM253.9 309.2h2.9v2.9h-2.9zM121.4 325.3h2.9v2.9h-2.9zM173.9 371.9h2.9v2.9h-2.9zM266.7 317.1h2.9v2.9h-2.9zM88.0 318.8h2.9v2.9h-2.9zM231.9 336.7h2.9v2.9h-2.9zM185.9 242.1h2.9v2.9h-2.9zM95.6 323.7h2.9v2.9h-2.9zM162.1 336.5h2.9v2.9h-2.9zM193.6 268.4h2.9v2.9h-2.9zM245.6 331.0h2.9v2.9h-2.9zM101.9 332.5h2.9v2.9h-2.9zM93.7 312.0h2.9v2.9h-2.9zM228.5 305.4h2.9v2.9h-2.9zM177.7 285.5h2.9v2.9h-2.9zM203.4 293.0h2.9v2.9h-2.9zM260.3 312.7h2.9v2.9h-2.9zM243.5 321.1h2.9v2.9h-2.9zM241.0 302.3h2.9v2.9h-2.9zM91.8 313.2h2.9v2.9h-2.9zM126.1 349.3h2.9v2.9h-2.9zM197.2 277.4h2.9v2.9h-2.9zM203.8 281.4h2.9v2.9h-2.9zM127.5 288.3h2.9v2.9h-2.9zM134.1 272.5h2.9v2.9h-2.9zM266.7 315.5h2.9v2.9h-2.9zM200.1 253.7h2.9v2.9h-2.9zM143.7 264.3h2.9v2.9h-2.9zM205.1 376.8h2.9v2.9h-2.9zM181.3 254.4h2.9v2.9h-2.9zM247.9 315.4h2.9v2.9h-2.9zM105.1 323.5h2.9v2.9h-2.9zM149.2 262.8h2.9v2.9h-2.9zM177.3 330.1h2.9v2.9h-2.9zM191.6 348.4h2.9v2.9h-2.9zM169.5 245.0h2.9v2.9h-2.9zM212.9 346.2h2.9v2.9h-2.9zM118.8 305.7h2.9v2.9h-2.9zM140.2 308.8h2.9v2.9h-2.9zM100.0 309.6h2.9v2.9h-2.9zM130.1 283.4h2.9v2.9h-2.9zM192.1 352.3h2.9v2.9h-2.9zM263.4 310.4h2.9v2.9h-2.9zM180.3 312.9h2.9v2.9h-2.9zM119.9 290.5h2.9v2.9h-2.9zM109.2 295.7h2.9v2.9h-2.9zM209.1 373.2h2.9v2.9h-2.9zM163.9 316.1h2.9v2.9h-2.9zM164.5 264.1h2.9v2.9h-2.9zM164.5 390.2h2.9v2.9h-2.9zM154.4 358.3h2.9v2.9h-2.9zM185.4 275.5h2.9v2.9h-2.9zM107.2 311.8h2.9v2.9h-2.9zM104.6 331.1h2.9v2.9h-2.9zM222.7 319.9h2.9v2.9h-2.9zM88.3 312.3h2.9v2.9h-2.9zM227.0 298.3h2.9v2.9h-2.9zM94.7 322.2h2.9v2.9h-2.9zM265.7 315.2h2.9v2.9h-2.9zM134.2 331.9h2.9v2.9h-2.9zM101.5 315.8h2.9v2.9h-2.9zM211.2 292.7h2.9v2.9h-2.9zM255.5 304.7h2.9v2.9h-2.9zM177.1 277.4h2.9v2.9h-2.9zM235.1 308.0h2.9v2.9h-2.9zM181.3 317.4h2.9v2.9h-2.9zM160.3 307.3h2.9v2.9h-2.9zM130.6 300.7h2.9v2.9h-2.9zM105.5 331.9h2.9v2.9h-2.9zM132.1 337.8h2.9v2.9h-2.9zM94.1 321.7h2.9v2.9h-2.9zM121.9 324.2h2.9v2.9h-2.9zM210.2 315.4h2.9v2.9h-2.9zM168.1 245.0h2.9v2.9h-2.9zM248.3 305.9h2.9v2.9h-2.9zM91.8 313.5h2.9v2.9h-2.9zM229.8 306.8h2.9v2.9h-2.9zM127.1 281.0h2.9v2.9h-2.9zM118.0 301.6h2.9v2.9h-2.9zM166.3 284.6h2.9v2.9h-2.9zM185.5 386.9h2.9v2.9h-2.9zM134.3 355.6h2.9v2.9h-2.9zM127.1 349.8h2.9v2.9h-2.9zM240.2 314.3h2.9v2.9h-2.9zM256.0 308.7h2.9v2.9h-2.9zM143.4 359.5h2.9v2.9h-2.9zM151.3 302.2h2.9v2.9h-2.9zM91.3 321.0h2.9v2.9h-2.9zM95.1 320.1h2.9v2.9h-2.9zM155.0 269.0h2.9v2.9h-2.9zM185.2 393.8h2.9v2.9h-2.9zM133.6 296.3h2.9v2.9h-2.9zM243.0 321.1h2.9v2.9h-2.9zM205.4 323.9h2.9v2.9h-2.9zM220.0 315.8h2.9v2.9h-2.9zM149.0 367.0h2.9v2.9h-2.9zM197.1 342.9h2.9v2.9h-2.9zM172.5 370.5h2.9v2.9h-2.9zM105.7 331.8h2.9v2.9h-2.9zM163.1 243.9h2.9v2.9h-2.9zM115.3 305.3h2.9v2.9h-2.9zM209.1 314.3h2.9v2.9h-2.9zM118.5 285.8h2.9v2.9h-2.9zM179.2 250.2h2.9v2.9h-2.9zM179.4 236.6h2.9v2.9h-2.9zM228.5 319.2h2.9v2.9h-2.9zM145.2 277.3h2.9v2.9h-2.9zM191.9 384.3h2.9v2.9h-2.9zM105.0 328.8h2.9v2.9h-2.9zM246.6 300.9h2.9v2.9h-2.9zM180.4 268.9h2.9v2.9h-2.9zM166.8 391.4h2.9v2.9h-2.9zM128.5 337.5h2.9v2.9h-2.9zM147.5 315.9h2.9v2.9h-2.9zM186.6 343.3h2.9v2.9h-2.9zM89.7 319.9h2.9v2.9h-2.9zM195.4 289.4h2.9v2.9h-2.9zM116.1 301.1h2.9v2.9h-2.9zM222.3 331.3h2.9v2.9h-2.9zM99.4 308.9h2.9v2.9h-2.9zM88.1 315.7h2.9v2.9h-2.9zM153.8 332.3h2.9v2.9h-2.9zM182.6 255.2h2.9v2.9h-2.9zM157.2 308.8h2.9v2.9h-2.9zM136.7 294.6h2.9v2.9h-2.9zM265.0 319.9h2.9v2.9h-2.9zM209.0 269.1h2.9v2.9h-2.9zM127.4 339.6h2.9v2.9h-2.9zM183.2 368.0h2.9v2.9h-2.9zM117.0 339.5h2.9v2.9h-2.9zM155.3 266.6h2.9v2.9h-2.9zM185.8 291.1h2.9v2.9h-2.9zM99.4 310.3h2.9v2.9h-2.9zM214.1 279.9h2.9v2.9h-2.9zM139.7 291.6h2.9v2.9h-2.9zM141.6 285.1h2.9v2.9h-2.9zM257.1 311.9h2.9v2.9h-2.9zM241.3 341.5h2.9v2.9h-2.9zM116.9 342.6h2.9v2.9h-2.9zM211.7 373.0h2.9v2.9h-2.9zM232.9 283.2h2.9v2.9h-2.9zM128.7 319.9h2.9v2.9h-2.9zM130.3 301.0h2.9v2.9h-2.9zM111.0 340.7h2.9v2.9h-2.9zM217.2 300.6h2.9v2.9h-2.9zM103.0 310.4h2.9v2.9h-2.9zM262.6 319.9h2.9v2.9h-2.9zM142.8 317.7h2.9v2.9h-2.9zM195.7 266.1h2.9v2.9h-2.9zM232.9 336.1h2.9v2.9h-2.9zM136.1 269.8h2.9v2.9h-2.9zM95.5 308.7h2.9v2.9h-2.9zM230.1 355.0h2.9v2.9h-2.9zM225.6 324.4h2.9v2.9h-2.9zM116.1 290.3h2.9v2.9h-2.9zM164.0 357.2h2.9v2.9h-2.9zM258.3 325.6h2.9v2.9h-2.9zM134.9 345.3h2.9v2.9h-2.9zM138.1 333.4h2.9v2.9h-2.9zM141.9 306.0h2.9v2.9h-2.9zM187.0 283.5h2.9v2.9h-2.9zM104.5 297.4h2.9v2.9h-2.9zM171.6 326.3h2.9v2.9h-2.9zM118.3 293.3h2.9v2.9h-2.9zM203.6 371.3h2.9v2.9h-2.9zM239.1 299.9h2.9v2.9h-2.9zM122.1 332.8h2.9v2.9h-2.9zM244.6 306.7h2.9v2.9h-2.9zM105.6 300.9h2.9v2.9h-2.9zM257.0 313.5h2.9v2.9h-2.9zM106.1 329.6h2.9v2.9h-2.9zM234.0 304.7h2.9v2.9h-2.9zM190.7 255.9h2.9v2.9h-2.9zM237.8 317.5h2.9v2.9h-2.9zM87.2 316.3h2.9v2.9h-2.9zM161.9 368.7h2.9v2.9h-2.9zM222.7 357.3h2.9v2.9h-2.9zM150.6 340.3h2.9v2.9h-2.9zM204.9 378.9h2.9v2.9h-2.9zM233.2 309.5h2.9v2.9h-2.9zM183.1 310.6h2.9v2.9h-2.9zM235.5 312.7h2.9v2.9h-2.9zM126.2 279.9h2.9v2.9h-2.9zM211.0 271.9h2.9v2.9h-2.9zM88.8 315.9h2.9v2.9h-2.9zM235.0 292.8h2.9v2.9h-2.9zM202.0 258.0h2.9v2.9h-2.9zM140.7 314.4h2.9v2.9h-2.9zM129.0 278.9h2.9v2.9h-2.9zM140.6 351.4h2.9v2.9h-2.9zM103.8 322.2h2.9v2.9h-2.9zM214.6 295.9h2.9v2.9h-2.9zM248.9 305.0h2.9v2.9h-2.9zM106.5 299.6h2.9v2.9h-2.9zM123.3 327.6h2.9v2.9h-2.9zM237.9 330.7h2.9v2.9h-2.9zM254.2 310.4h2.9v2.9h-2.9zM196.2 284.6h2.9v2.9h-2.9zM136.5 290.5h2.9v2.9h-2.9zM198.1 260.6h2.9v2.9h-2.9zM166.7 309.7h2.9v2.9h-2.9zM178.7 341.0h2.9v2.9h-2.9zM231.5 289.2h2.9v2.9h-2.9zM234.5 344.6h2.9v2.9h-2.9zM139.5 268.0h2.9v2.9h-2.9zM261.4 316.9h2.9v2.9h-2.9zM205.8 335.6h2.9v2.9h-2.9zM190.6 260.6h2.9v2.9h-2.9zM209.6 328.3h2.9v2.9h-2.9zM146.0 315.2h2.9v2.9h-2.9zM104.2 334.2h2.9v2.9h-2.9zM237.6 322.9h2.9v2.9h-2.9zM131.9 281.4h2.9v2.9h-2.9zM130.8 356.9h2.9v2.9h-2.9zM258.2 324.5h2.9v2.9h-2.9zM233.5 283.5h2.9v2.9h-2.9zM214.3 272.7h2.9v2.9h-2.9zM204.8 354.6h2.9v2.9h-2.9zM203.2 374.6h2.9v2.9h-2.9zM158.1 346.9h2.9v2.9h-2.9zM207.6 342.8h2.9v2.9h-2.9zM158.7 372.0h2.9v2.9h-2.9zM179.8 359.3h2.9v2.9h-2.9zM210.6 266.8h2.9v2.9h-2.9zM118.4 294.4h2.9v2.9h-2.9zM195.9 360.5h2.9v2.9h-2.9zM185.8 279.2h2.9v2.9h-2.9zM173.6 263.2h2.9v2.9h-2.9zM113.1 299.2h2.9v2.9h-2.9zM102.1 303.9h2.9v2.9h-2.9zM126.9 356.7h2.9v2.9h-2.9zM104.2 303.5h2.9v2.9h-2.9zM130.7 354.3h2.9v2.9h-2.9zM103.5 330.2h2.9v2.9h-2.9zM97.8 323.9h2.9v2.9h-2.9zM194.0 369.1h2.9v2.9h-2.9zM247.0 340.2h2.9v2.9h-2.9zM170.8 360.2h2.9v2.9h-2.9zM103.5 312.4h2.9v2.9h-2.9zM122.2 345.6h2.9v2.9h-2.9zM177.7 397.4h2.9v2.9h-2.9zM257.6 314.0h2.9v2.9h-2.9zM164.9 393.9h2.9v2.9h-2.9zM253.4 321.3h2.9v2.9h-2.9zM107.7 308.0h2.9v2.9h-2.9zM207.8 293.0h2.9v2.9h-2.9zM218.7 362.3h2.9v2.9h-2.9zM97.7 329.2h2.9v2.9h-2.9zM92.8 315.3h2.9v2.9h-2.9zM112.2 292.7h2.9v2.9h-2.9zM148.5 353.6h2.9v2.9h-2.9zM88.9 315.4h2.9v2.9h-2.9zM127.2 275.6h2.9v2.9h-2.9zM242.4 344.6h2.9v2.9h-2.9zM154.7 265.0h2.9v2.9h-2.9zM200.7 312.1h2.9v2.9h-2.9zM182.4 251.7h2.9v2.9h-2.9zM165.3 394.5h2.9v2.9h-2.9zM219.4 284.6h2.9v2.9h-2.9zM163.3 387.8h2.9v2.9h-2.9zM173.0 251.0h2.9v2.9h-2.9zM200.8 368.4h2.9v2.9h-2.9zM142.7 324.8h2.9v2.9h-2.9zM206.4 302.7h2.9v2.9h-2.9zM192.1 345.0h2.9v2.9h-2.9zM139.5 342.5h2.9v2.9h-2.9zM215.4 341.7h2.9v2.9h-2.9zM134.6 294.5h2.9v2.9h-2.9zM216.9 303.0h2.9v2.9h-2.9zM235.2 288.2h2.9v2.9h-2.9zM247.3 301.0h2.9v2.9h-2.9zM261.0 317.0h2.9v2.9h-2.9zM182.6 290.1h2.9v2.9h-2.9zM87.4 313.9h2.9v2.9h-2.9zM146.2 262.5h2.9v2.9h-2.9zM94.5 318.2h2.9v2.9h-2.9zM222.9 349.0h2.9v2.9h-2.9zM142.7 273.1h2.9v2.9h-2.9zM252.1 328.5h2.9v2.9h-2.9zM233.0 340.8h2.9v2.9h-2.9zM120.7 323.6h2.9v2.9h-2.9zM168.2 364.2h2.9v2.9h-2.9zM198.3 363.7h2.9v2.9h-2.9zM245.0 310.2h2.9v2.9h-2.9zM88.4 317.2h2.9v2.9h-2.9zM184.8 395.5h2.9v2.9h-2.9zM159.8 286.2h2.9v2.9h-2.9zM251.4 329.7h2.9v2.9h-2.9zM169.2 295.0h2.9v2.9h-2.9zM123.6 345.4h2.9v2.9h-2.9zM149.9 372.7h2.9v2.9h-2.9zM99.3 330.1h2.9v2.9h-2.9zM108.4 334.1h2.9v2.9h-2.9zM230.9 342.4h2.9v2.9h-2.9zM108.7 299.3h2.9v2.9h-2.9zM158.6 295.9h2.9v2.9h-2.9zM179.6 283.6h2.9v2.9h-2.9zM261.4 318.4h2.9v2.9h-2.9zM217.9 273.4h2.9v2.9h-2.9zM110.4 324.5h2.9v2.9h-2.9zM244.6 315.1h2.9v2.9h-2.9zM118.5 319.1h2.9v2.9h-2.9zM90.1 320.0h2.9v2.9h-2.9zM245.5 301.8h2.9v2.9h-2.9zM90.9 315.5h2.9v2.9h-2.9zM202.3 253.5h2.9v2.9h-2.9zM123.9 305.3h2.9v2.9h-2.9zM157.5 305.6h2.9v2.9h-2.9zM108.0 300.3h2.9v2.9h-2.9zM201.5 317.8h2.9v2.9h-2.9zM266.2 314.2h2.9v2.9h-2.9zM93.9 323.1h2.9v2.9h-2.9zM206.7 293.7h2.9v2.9h-2.9zM126.2 353.7h2.9v2.9h-2.9zM249.9 331.5h2.9v2.9h-2.9zM124.6 287.3h2.9v2.9h-2.9zM182.5 316.9h2.9v2.9h-2.9zM164.5 261.7h2.9v2.9h-2.9zM145.9 280.0h2.9v2.9h-2.9zM265.1 318.7h2.9v2.9h-2.9zM116.0 294.0h2.9v2.9h-2.9zM216.4 361.3h2.9v2.9h-2.9zM142.1 351.0h2.9v2.9h-2.9zM187.5 341.4h2.9v2.9h-2.9zM88.9 318.4h2.9v2.9h-2.9zM177.4 392.5h2.9v2.9h-2.9zM124.9 342.9h2.9v2.9h-2.9zM213.1 269.4h2.9v2.9h-2.9zM243.6 313.3h2.9v2.9h-2.9zM204.2 381.2h2.9v2.9h-2.9zM204.4 364.8h2.9v2.9h-2.9zM247.8 309.1h2.9v2.9h-2.9zM140.0 335.8h2.9v2.9h-2.9zM200.0 282.5h2.9v2.9h-2.9zM176.1 235.8h2.9v2.9h-2.9zM140.8 271.3h2.9v2.9h-2.9zM113.7 340.5h2.9v2.9h-2.9zM261.3 315.8h2.9v2.9h-2.9zM203.3 285.1h2.9v2.9h-2.9zM149.3 292.8h2.9v2.9h-2.9zM127.4 293.4h2.9v2.9h-2.9zM219.0 343.4h2.9v2.9h-2.9zM179.9 238.7h2.9v2.9h-2.9zM149.1 374.6h2.9v2.9h-2.9zM102.9 304.5h2.9v2.9h-2.9zM235.6 284.4h2.9v2.9h-2.9zM199.8 325.9h2.9v2.9h-2.9zM131.3 339.3h2.9v2.9h-2.9zM132.0 316.7h2.9v2.9h-2.9zM210.2 330.9h2.9v2.9h-2.9zM97.7 323.9h2.9v2.9h-2.9zM95.4 321.2h2.9v2.9h-2.9zM150.3 374.1h2.9v2.9h-2.9zM201.3 384.2h2.9v2.9h-2.9zM155.2 338.8h2.9v2.9h-2.9zM173.7 297.6h2.9v2.9h-2.9zM226.9 278.3h2.9v2.9h-2.9zM178.0 323.0h2.9v2.9h-2.9zM261.8 317.7h2.9v2.9h-2.9zM188.2 364.2h2.9v2.9h-2.9zM101.3 306.4h2.9v2.9h-2.9zM232.8 347.2h2.9v2.9h-2.9zM149.1 353.7h2.9v2.9h-2.9zM149.4 368.2h2.9v2.9h-2.9zM218.6 313.5h2.9v2.9h-2.9zM110.1 339.0h2.9v2.9h-2.9zM257.3 320.3h2.9v2.9h-2.9zM189.4 392.8h2.9v2.9h-2.9zM170.6 355.5h2.9v2.9h-2.9zM209.1 323.1h2.9v2.9h-2.9zM152.6 266.2h2.9v2.9h-2.9zM265.4 321.1h2.9v2.9h-2.9zM240.5 295.7h2.9v2.9h-2.9zM118.8 308.7h2.9v2.9h-2.9zM245.5 325.4h2.9v2.9h-2.9zM254.8 324.4h2.9v2.9h-2.9zM240.9 343.2h2.9v2.9h-2.9zM103.9 314.8h2.9v2.9h-2.9zM95.7 317.0h2.9v2.9h-2.9zM205.8 273.0h2.9v2.9h-2.9zM160.9 368.7h2.9v2.9h-2.9zM172.2 238.7h2.9v2.9h-2.9zM125.0 300.4h2.9v2.9h-2.9zM222.3 338.6h2.9v2.9h-2.9zM257.7 325.5h2.9v2.9h-2.9zM135.8 269.8h2.9v2.9h-2.9zM163.3 247.1h2.9v2.9h-2.9zM130.6 359.0h2.9v2.9h-2.9zM113.8 320.0h2.9v2.9h-2.9zM145.6 275.0h2.9v2.9h-2.9zM118.8 295.1h2.9v2.9h-2.9zM96.5 313.9h2.9v2.9h-2.9zM251.6 304.3h2.9v2.9h-2.9zM236.4 321.8h2.9v2.9h-2.9zM108.3 305.9h2.9v2.9h-2.9zM234.9 288.5h2.9v2.9h-2.9zM262.1 321.9h2.9v2.9h-2.9zM192.0 279.5h2.9v2.9h-2.9zM110.8 326.1h2.9v2.9h-2.9zM217.0 265.7h2.9v2.9h-2.9zM166.6 382.8h2.9v2.9h-2.9zM218.7 297.3h2.9v2.9h-2.9zM99.0 308.6h2.9v2.9h-2.9zM118.9 315.2h2.9v2.9h-2.9zM145.4 309.2h2.9v2.9h-2.9zM135.5 317.2h2.9v2.9h-2.9zM218.3 346.3h2.9v2.9h-2.9zM167.4 369.2h2.9v2.9h-2.9zM235.1 284.8h2.9v2.9h-2.9zM96.0 320.5h2.9v2.9h-2.9zM252.8 320.3h2.9v2.9h-2.9zM110.4 302.6h2.9v2.9h-2.9zM179.9 388.1h2.9v2.9h-2.9zM226.3 300.9h2.9v2.9h-2.9zM120.9 283.4h2.9v2.9h-2.9zM177.4 261.5h2.9v2.9h-2.9zM229.4 350.0h2.9v2.9h-2.9zM206.1 373.1h2.9v2.9h-2.9zM189.5 268.5h2.9v2.9h-2.9zM122.0 353.2h2.9v2.9h-2.9zM232.9 326.5h2.9v2.9h-2.9zM159.1 309.3h2.9v2.9h-2.9zM215.4 282.9h2.9v2.9h-2.9zM145.7 348.8h2.9v2.9h-2.9zM227.9 285.6h2.9v2.9h-2.9zM148.6 274.1h2.9v2.9h-2.9zM260.8 327.1h2.9v2.9h-2.9zM187.1 241.2h2.9v2.9h-2.9zM180.1 331.0h2.9v2.9h-2.9zM154.5 273.0h2.9v2.9h-2.9zM91.9 313.6h2.9v2.9h-2.9zM243.9 290.3h2.9v2.9h-2.9zM115.7 314.5h2.9v2.9h-2.9zM168.3 389.8h2.9v2.9h-2.9zM142.0 281.3h2.9v2.9h-2.9zM229.7 317.9h2.9v2.9h-2.9zM222.1 314.5h2.9v2.9h-2.9zM189.7 378.2h2.9v2.9h-2.9zM146.5 277.6h2.9v2.9h-2.9zM256.5 321.2h2.9v2.9h-2.9zM97.2 315.4h2.9v2.9h-2.9zM204.9 260.8h2.9v2.9h-2.9zM205.1 257.9h2.9v2.9h-2.9zM144.0 314.0h2.9v2.9h-2.9zM210.7 352.8h2.9v2.9h-2.9zM112.1 311.5h2.9v2.9h-2.9zM212.6 342.0h2.9v2.9h-2.9zM138.3 272.3h2.9v2.9h-2.9zM252.3 331.3h2.9v2.9h-2.9zM259.5 308.2h2.9v2.9h-2.9zM87.4 317.1h2.9v2.9h-2.9zM254.9 328.6h2.9v2.9h-2.9zM241.1 309.1h2.9v2.9h-2.9zM88.1 316.8h2.9v2.9h-2.9zM144.3 267.3h2.9v2.9h-2.9zM110.0 332.0h2.9v2.9h-2.9zM195.5 355.7h2.9v2.9h-2.9zM262.5 320.5h2.9v2.9h-2.9zM186.6 236.6h2.9v2.9h-2.9zM189.6 243.2h2.9v2.9h-2.9zM252.6 332.3h2.9v2.9h-2.9zM205.5 352.2h2.9v2.9h-2.9zM184.6 305.9h2.9v2.9h-2.9zM175.1 364.0h2.9v2.9h-2.9zM165.1 382.0h2.9v2.9h-2.9zM253.3 326.1h2.9v2.9h-2.9zM130.3 315.3h2.9v2.9h-2.9zM90.0 314.1h2.9v2.9h-2.9zM157.6 307.2h2.9v2.9h-2.9zM169.3 267.6h2.9v2.9h-2.9zM104.8 301.8h2.9v2.9h-2.9zM92.2 314.7h2.9v2.9h-2.9zM128.9 309.5h2.9v2.9h-2.9zM252.5 300.9h2.9v2.9h-2.9zM246.9 301.5h2.9v2.9h-2.9zM91.4 314.2h2.9v2.9h-2.9zM264.8 317.8h2.9v2.9h-2.9zM126.2 348.5h2.9v2.9h-2.9zM147.1 376.4h2.9v2.9h-2.9zM203.0 260.5h2.9v2.9h-2.9zM215.5 351.5h2.9v2.9h-2.9zM149.8 258.1h2.9v2.9h-2.9zM90.2 316.1h2.9v2.9h-2.9zM170.1 384.3h2.9v2.9h-2.9zM183.4 315.9h2.9v2.9h-2.9zM228.8 295.4h2.9v2.9h-2.9zM129.9 289.2h2.9v2.9h-2.9zM235.3 333.1h2.9v2.9h-2.9zM199.1 369.8h2.9v2.9h-2.9zM242.1 300.4h2.9v2.9h-2.9zM149.3 340.2h2.9v2.9h-2.9zM236.1 343.5h2.9v2.9h-2.9zM167.2 284.1h2.9v2.9h-2.9zM92.1 319.3h2.9v2.9h-2.9zM98.1 315.8h2.9v2.9h-2.9zM255.6 322.9h2.9v2.9h-2.9zM128.8 282.0h2.9v2.9h-2.9zM267.0 315.2h2.9v2.9h-2.9zM115.7 339.7h2.9v2.9h-2.9zM104.7 333.0h2.9v2.9h-2.9zM100.5 304.9h2.9v2.9h-2.9zM161.7 243.3h2.9v2.9h-2.9zM111.9 299.2h2.9v2.9h-2.9zM104.4 328.6h2.9v2.9h-2.9zM154.5 354.5h2.9v2.9h-2.9zM242.3 340.3h2.9v2.9h-2.9zM184.6 296.8h2.9v2.9h-2.9zM147.0 260.3h2.9v2.9h-2.9zM119.8 294.4h2.9v2.9h-2.9zM191.9 389.5h2.9v2.9h-2.9zM265.0 313.9h2.9v2.9h-2.9zM146.0 353.5h2.9v2.9h-2.9zM255.6 302.9h2.9v2.9h-2.9zM240.0 343.9h2.9v2.9h-2.9zM215.0 262.3h2.9v2.9h-2.9zM238.2 318.5h2.9v2.9h-2.9zM238.7 312.1h2.9v2.9h-2.9zM115.7 317.7h2.9v2.9h-2.9zM190.4 322.3h2.9v2.9h-2.9zM90.5 312.1h2.9v2.9h-2.9zM167.0 297.1h2.9v2.9h-2.9zM173.9 275.9h2.9v2.9h-2.9zM246.9 317.2h2.9v2.9h-2.9zM200.8 255.4h2.9v2.9h-2.9zM127.3 304.8h2.9v2.9h-2.9zM261.9 322.2h2.9v2.9h-2.9zM182.9 397.4h2.9v2.9h-2.9zM118.7 284.6h2.9v2.9h-2.9zM242.6 315.9h2.9v2.9h-2.9zM142.1 264.2h2.9v2.9h-2.9zM264.4 314.3h2.9v2.9h-2.9zM94.6 320.9h2.9v2.9h-2.9zM128.7 279.0h2.9v2.9h-2.9zM185.0 382.6h2.9v2.9h-2.9zM212.6 260.9h2.9v2.9h-2.9zM182.8 373.8h2.9v2.9h-2.9zM130.4 336.9h2.9v2.9h-2.9zM168.3 237.9h2.9v2.9h-2.9zM241.9 312.8h2.9v2.9h-2.9zM207.3 306.3h2.9v2.9h-2.9zM204.6 322.9h2.9v2.9h-2.9zM266.5 316.4h2.9v2.9h-2.9zM116.3 303.8h2.9v2.9h-2.9zM174.6 254.6h2.9v2.9h-2.9zM111.6 317.1h2.9v2.9h-2.9zM143.0 298.4h2.9v2.9h-2.9zM101.7 308.2h2.9v2.9h-2.9zM257.6 326.4h2.9v2.9h-2.9zM120.5 350.7h2.9v2.9h-2.9zM183.1 363.9h2.9v2.9h-2.9zM190.9 273.5h2.9v2.9h-2.9zM167.5 258.9h2.9v2.9h-2.9zM262.4 318.3h2.9v2.9h-2.9zM108.2 332.3h2.9v2.9h-2.9zM161.5 378.9h2.9v2.9h-2.9zM114.3 327.1h2.9v2.9h-2.9zM228.1 315.8h2.9v2.9h-2.9zM120.6 342.1h2.9v2.9h-2.9zM212.7 261.0h2.9v2.9h-2.9zM90.4 316.2h2.9v2.9h-2.9zM260.4 319.5h2.9v2.9h-2.9zM163.3 241.0h2.9v2.9h-2.9zM219.2 357.1h2.9v2.9h-2.9zM116.5 299.4h2.9v2.9h-2.9zM254.6 303.8h2.9v2.9h-2.9zM159.2 256.6h2.9v2.9h-2.9zM172.0 323.5h2.9v2.9h-2.9zM135.7 324.5h2.9v2.9h-2.9zM220.6 296.3h2.9v2.9h-2.9zM177.6 363.3h2.9v2.9h-2.9zM237.9 321.7h2.9v2.9h-2.9zM166.6 238.7h2.9v2.9h-2.9zM137.3 321.2h2.9v2.9h-2.9zM153.5 340.3h2.9v2.9h-2.9zM161.7 363.3h2.9v2.9h-2.9zM127.8 336.7h2.9v2.9h-2.9zM189.2 380.3h2.9v2.9h-2.9zM238.3 303.2h2.9v2.9h-2.9zM113.0 290.0h2.9v2.9h-2.9zM162.5 390.7h2.9v2.9h-2.9zM178.4 291.6h2.9v2.9h-2.9zM119.4 315.7h2.9v2.9h-2.9zM258.4 310.4h2.9v2.9h-2.9zM133.4 352.6h2.9v2.9h-2.9zM176.1 301.9h2.9v2.9h-2.9zM241.1 295.7h2.9v2.9h-2.9zM237.2 328.8h2.9v2.9h-2.9zM127.8 320.5h2.9v2.9h-2.9zM159.1 352.8h2.9v2.9h-2.9zM106.4 327.2h2.9v2.9h-2.9zM202.2 297.5h2.9v2.9h-2.9zM111.4 295.5h2.9v2.9h-2.9zM229.4 337.0h2.9v2.9h-2.9zM144.6 371.3h2.9v2.9h-2.9zM133.2 282.0h2.9v2.9h-2.9zM263.1 318.7h2.9v2.9h-2.9zM143.9 340.8h2.9v2.9h-2.9zM259.7 315.8h2.9v2.9h-2.9zM99.0 324.4h2.9v2.9h-2.9zM129.7 294.9h2.9v2.9h-2.9zM261.5 323.9h2.9v2.9h-2.9zM109.8 342.0h2.9v2.9h-2.9zM222.1 293.9h2.9v2.9h-2.9zM159.6 352.6h2.9v2.9h-2.9zM194.7 384.4h2.9v2.9h-2.9zM200.4 254.9h2.9v2.9h-2.9zM131.2 359.4h2.9v2.9h-2.9zM111.4 295.1h2.9v2.9h-2.9zM101.2 309.3h2.9v2.9h-2.9zM104.2 320.9h2.9v2.9h-2.9zM264.5 314.3h2.9v2.9h-2.9zM178.8 235.7h2.9v2.9h-2.9zM119.5 330.0h2.9v2.9h-2.9zM159.3 387.9h2.9v2.9h-2.9zM251.7 299.5h2.9v2.9h-2.9zM171.0 328.1h2.9v2.9h-2.9zM96.7 310.5h2.9v2.9h-2.9zM244.2 318.1h2.9v2.9h-2.9zM177.3 383.5h2.9v2.9h-2.9zM92.5 312.4h2.9v2.9h-2.9zM234.2 313.3h2.9v2.9h-2.9zM210.0 354.2h2.9v2.9h-2.9zM193.2 367.6h2.9v2.9h-2.9zM198.7 323.2h2.9v2.9h-2.9zM155.5 311.4h2.9v2.9h-2.9zM108.4 323.8h2.9v2.9h-2.9zM204.0 379.3h2.9v2.9h-2.9zM90.4 320.4h2.9v2.9h-2.9zM96.9 309.8h2.9v2.9h-2.9zM102.8 297.0h2.9v2.9h-2.9zM151.8 317.9h2.9v2.9h-2.9zM156.0 376.6h2.9v2.9h-2.9zM156.4 382.3h2.9v2.9h-2.9zM209.8 349.9h2.9v2.9h-2.9zM238.9 288.9h2.9v2.9h-2.9zM260.7 321.2h2.9v2.9h-2.9zM192.1 359.8h2.9v2.9h-2.9zM227.4 309.5h2.9v2.9h-2.9zM146.4 271.5h2.9v2.9h-2.9zM240.8 315.0h2.9v2.9h-2.9zM106.3 313.7h2.9v2.9h-2.9zM265.8 314.1h2.9v2.9h-2.9zM237.9 321.6h2.9v2.9h-2.9zM141.3 307.7h2.9v2.9h-2.9zM253.2 320.7h2.9v2.9h-2.9zM152.9 317.9h2.9v2.9h-2.9zM97.9 323.9h2.9v2.9h-2.9zM267.5 315.6h2.9v2.9h-2.9zM164.6 293.4h2.9v2.9h-2.9zM172.3 360.0h2.9v2.9h-2.9zM108.0 314.7h2.9v2.9h-2.9zM205.7 340.4h2.9v2.9h-2.9zM133.6 363.2h2.9v2.9h-2.9zM131.0 354.4h2.9v2.9h-2.9zM115.8 326.6h2.9v2.9h-2.9zM239.9 315.4h2.9v2.9h-2.9zM154.0 307.5h2.9v2.9h-2.9zM179.5 393.4h2.9v2.9h-2.9zM100.3 310.6h2.9v2.9h-2.9zM232.3 287.7h2.9v2.9h-2.9zM200.0 338.7h2.9v2.9h-2.9zM105.1 321.7h2.9v2.9h-2.9zM109.3 333.8h2.9v2.9h-2.9zM243.6 329.7h2.9v2.9h-2.9zM210.4 334.7h2.9v2.9h-2.9zM154.0 301.5h2.9v2.9h-2.9zM185.7 307.8h2.9v2.9h-2.9zM176.1 319.0h2.9v2.9h-2.9zM267.4 315.6h2.9v2.9h-2.9zM180.1 397.4h2.9v2.9h-2.9zM243.7 334.5h2.9v2.9h-2.9zM171.6 267.8h2.9v2.9h-2.9zM188.0 267.3h2.9v2.9h-2.9zM123.3 351.1h2.9v2.9h-2.9zM96.7 312.3h2.9v2.9h-2.9zM153.2 252.8h2.9v2.9h-2.9zM247.6 316.2h2.9v2.9h-2.9zM267.8 319.0h2.9v2.9h-2.9zM102.6 332.6h2.9v2.9h-2.9zM242.1 311.7h2.9v2.9h-2.9zM241.6 345.1h2.9v2.9h-2.9zM146.3 366.3h2.9v2.9h-2.9zM180.0 245.6h2.9v2.9h-2.9zM149.9 286.4h2.9v2.9h-2.9zM256.7 308.0h2.9v2.9h-2.9zM249.0 323.0h2.9v2.9h-2.9zM127.6 354.5h2.9v2.9h-2.9zM163.4 341.1h2.9v2.9h-2.9zM150.3 285.0h2.9v2.9h-2.9zM231.7 295.0h2.9v2.9h-2.9zM213.8 358.4h2.9v2.9h-2.9zM243.8 313.3h2.9v2.9h-2.9zM220.9 289.0h2.9v2.9h-2.9zM100.6 327.5h2.9v2.9h-2.9zM250.6 296.1h2.9v2.9h-2.9zM98.9 307.6h2.9v2.9h-2.9zM154.9 250.9h2.9v2.9h-2.9zM241.9 305.7h2.9v2.9h-2.9zM139.0 320.9h2.9v2.9h-2.9zM207.8 373.0h2.9v2.9h-2.9zM138.0 360.7h2.9v2.9h-2.9zM205.0 261.0h2.9v2.9h-2.9zM237.8 340.0h2.9v2.9h-2.9zM224.3 337.3h2.9v2.9h-2.9zM179.8 287.6h2.9v2.9h-2.9zM179.5 235.7h2.9v2.9h-2.9zM152.0 376.4h2.9v2.9h-2.9zM94.0 319.3h2.9v2.9h-2.9zM157.0 375.3h2.9v2.9h-2.9zM206.1 371.5h2.9v2.9h-2.9zM207.8 369.6h2.9v2.9h-2.9zM178.5 367.3h2.9v2.9h-2.9zM261.9 313.2h2.9v2.9h-2.9zM161.2 246.6h2.9v2.9h-2.9zM125.9 278.5h2.9v2.9h-2.9zM193.1 385.1h2.9v2.9h-2.9zM169.5 376.6h2.9v2.9h-2.9zM191.1 388.9h2.9v2.9h-2.9zM153.9 382.9h2.9v2.9h-2.9zM176.4 240.2h2.9v2.9h-2.9zM113.7 344.5h2.9v2.9h-2.9zM192.7 249.8h2.9v2.9h-2.9zM165.3 358.3h2.9v2.9h-2.9zM196.6 385.0h2.9v2.9h-2.9zM93.9 324.4h2.9v2.9h-2.9zM254.5 311.0h2.9v2.9h-2.9zM152.3 324.1h2.9v2.9h-2.9zM120.4 319.6h2.9v2.9h-2.9zM200.5 263.8h2.9v2.9h-2.9zM182.4 297.9h2.9v2.9h-2.9zM152.7 377.6h2.9v2.9h-2.9zM124.6 333.6h2.9v2.9h-2.9zM162.2 279.8h2.9v2.9h-2.9zM245.7 336.3h2.9v2.9h-2.9zM242.2 332.9h2.9v2.9h-2.9zM139.4 355.3h2.9v2.9h-2.9zM151.5 258.7h2.9v2.9h-2.9zM253.0 323.3h2.9v2.9h-2.9zM267.6 316.9h2.9v2.9h-2.9zM195.4 293.2h2.9v2.9h-2.9zM186.6 254.6h2.9v2.9h-2.9zM161.6 369.6h2.9v2.9h-2.9zM182.9 276.9h2.9v2.9h-2.9zM91.0 320.5h2.9v2.9h-2.9zM233.0 319.8h2.9v2.9h-2.9zM173.5 291.8h2.9v2.9h-2.9zM219.0 280.5h2.9v2.9h-2.9zM110.5 338.0h2.9v2.9h-2.9zM122.2 337.0h2.9v2.9h-2.9zM110.7 335.9h2.9v2.9h-2.9zM228.2 355.9h2.9v2.9h-2.9zM129.7 337.3h2.9v2.9h-2.9zM126.4 328.5h2.9v2.9h-2.9zM153.9 256.6h2.9v2.9h-2.9zM152.3 326.4h2.9v2.9h-2.9zM257.2 321.9h2.9v2.9h-2.9zM127.9 343.7h2.9v2.9h-2.9zM102.1 303.5h2.9v2.9h-2.9zM188.1 367.6h2.9v2.9h-2.9zM175.4 274.3h2.9v2.9h-2.9zM199.0 316.2h2.9v2.9h-2.9zM223.3 287.5h2.9v2.9h-2.9zM214.3 265.7h2.9v2.9h-2.9zM187.6 392.6h2.9v2.9h-2.9zM177.1 258.4h2.9v2.9h-2.9zM91.0 314.0h2.9v2.9h-2.9zM92.9 325.6h2.9v2.9h-2.9zM253.0 299.5h2.9v2.9h-2.9zM117.5 312.0h2.9v2.9h-2.9zM259.3 325.2h2.9v2.9h-2.9zM148.6 327.0h2.9v2.9h-2.9zM180.9 245.4h2.9v2.9h-2.9zM166.1 362.3h2.9v2.9h-2.9zM114.3 322.3h2.9v2.9h-2.9zM161.5 268.4h2.9v2.9h-2.9zM207.4 257.0h2.9v2.9h-2.9zM89.2 313.7h2.9v2.9h-2.9zM188.3 275.5h2.9v2.9h-2.9zM215.7 292.8h2.9v2.9h-2.9zM131.4 289.8h2.9v2.9h-2.9zM243.3 308.1h2.9v2.9h-2.9zM252.6 302.8h2.9v2.9h-2.9zM108.3 326.8h2.9v2.9h-2.9zM221.3 311.5h2.9v2.9h-2.9zM96.7 326.8h2.9v2.9h-2.9zM267.7 317.4h2.9v2.9h-2.9zM248.2 317.1h2.9v2.9h-2.9zM193.6 351.3h2.9v2.9h-2.9zM153.9 326.6h2.9v2.9h-2.9zM246.2 324.8h2.9v2.9h-2.9zM110.9 320.0h2.9v2.9h-2.9zM202.2 374.5h2.9v2.9h-2.9zM130.7 327.1h2.9v2.9h-2.9zM145.0 331.8h2.9v2.9h-2.9zM239.7 309.7h2.9v2.9h-2.9zM225.0 300.2h2.9v2.9h-2.9zM254.0 304.5h2.9v2.9h-2.9zM195.2 389.0h2.9v2.9h-2.9zM197.7 264.9h2.9v2.9h-2.9zM153.1 290.3h2.9v2.9h-2.9zM192.9 280.6h2.9v2.9h-2.9zM159.5 245.7h2.9v2.9h-2.9zM266.2 319.0h2.9v2.9h-2.9zM263.1 313.0h2.9v2.9h-2.9zM221.3 358.8h2.9v2.9h-2.9zM169.9 261.6h2.9v2.9h-2.9zM114.4 301.5h2.9v2.9h-2.9zM260.0 322.3h2.9v2.9h-2.9zM88.7 315.2h2.9v2.9h-2.9zM138.9 322.2h2.9v2.9h-2.9zM131.5 334.4h2.9v2.9h-2.9zM226.4 314.7h2.9v2.9h-2.9zM107.1 319.3h2.9v2.9h-2.9zM152.7 313.4h2.9v2.9h-2.9zM157.9 384.5h2.9v2.9h-2.9zM97.4 313.9h2.9v2.9h-2.9zM176.3 362.3h2.9v2.9h-2.9zM137.2 292.4h2.9v2.9h-2.9zM216.6 341.6h2.9v2.9h-2.9zM247.5 296.8h2.9v2.9h-2.9zM101.9 311.9h2.9v2.9h-2.9zM226.4 279.2h2.9v2.9h-2.9zM115.7 314.7h2.9v2.9h-2.9zM125.6 296.8h2.9v2.9h-2.9zM266.3 312.6h2.9v2.9h-2.9zM102.9 326.4h2.9v2.9h-2.9zM240.0 286.9h2.9v2.9h-2.9zM94.0 325.0h2.9v2.9h-2.9zM220.3 272.3h2.9v2.9h-2.9zM214.2 280.5h2.9v2.9h-2.9zM227.2 348.0h2.9v2.9h-2.9zM91.5 317.7h2.9v2.9h-2.9zM152.6 376.7h2.9v2.9h-2.9zM246.1 304.4h2.9v2.9h-2.9zM264.3 311.7h2.9v2.9h-2.9zM121.2 349.9h2.9v2.9h-2.9zM233.0 295.7h2.9v2.9h-2.9zM127.8 353.0h2.9v2.9h-2.9zM126.3 317.5h2.9v2.9h-2.9zM177.1 396.2h2.9v2.9h-2.9zM120.2 296.8h2.9v2.9h-2.9zM192.4 366.8h2.9v2.9h-2.9zM190.5 351.3h2.9v2.9h-2.9zM195.4 347.5h2.9v2.9h-2.9zM159.6 243.1h2.9v2.9h-2.9zM144.5 269.0h2.9v2.9h-2.9zM217.8 281.3h2.9v2.9h-2.9zM202.1 316.8h2.9v2.9h-2.9zM182.4 287.6h2.9v2.9h-2.9zM150.6 256.2h2.9v2.9h-2.9zM156.2 372.2h2.9v2.9h-2.9zM255.8 314.4h2.9v2.9h-2.9zM145.7 312.4h2.9v2.9h-2.9zM94.6 311.1h2.9v2.9h-2.9zM230.7 347.6h2.9v2.9h-2.9zM92.1 321.6h2.9v2.9h-2.9zM180.4 238.4h2.9v2.9h-2.9zM214.9 332.0h2.9v2.9h-2.9zM97.3 320.9h2.9v2.9h-2.9zM191.2 328.3h2.9v2.9h-2.9zM89.3 317.3h2.9v2.9h-2.9zM261.0 319.1h2.9v2.9h-2.9zM245.8 298.2h2.9v2.9h-2.9zM262.6 309.2h2.9v2.9h-2.9zM92.4 318.4h2.9v2.9h-2.9zM89.4 318.0h2.9v2.9h-2.9zM162.7 243.1h2.9v2.9h-2.9zM147.5 262.8h2.9v2.9h-2.9zM258.8 326.0h2.9v2.9h-2.9zM254.6 330.8h2.9v2.9h-2.9zM174.6 246.6h2.9v2.9h-2.9zM88.1 317.6h2.9v2.9h-2.9zM241.9 328.7h2.9v2.9h-2.9zM244.8 339.8h2.9v2.9h-2.9zM182.7 336.7h2.9v2.9h-2.9zM147.7 315.8h2.9v2.9h-2.9zM148.6 260.8h2.9v2.9h-2.9zM103.6 311.2h2.9v2.9h-2.9zM241.4 330.3h2.9v2.9h-2.9zM145.9 301.7h2.9v2.9h-2.9zM231.8 328.9h2.9v2.9h-2.9zM175.7 286.6h2.9v2.9h-2.9zM120.0 315.9h2.9v2.9h-2.9zM248.8 305.8h2.9v2.9h-2.9zM108.2 330.0h2.9v2.9h-2.9zM100.2 323.2h2.9v2.9h-2.9zM197.2 325.6h2.9v2.9h-2.9zM119.1 326.1h2.9v2.9h-2.9zM195.5 375.5h2.9v2.9h-2.9zM122.5 335.6h2.9v2.9h-2.9zM232.1 313.3h2.9v2.9h-2.9zM163.0 272.1h2.9v2.9h-2.9zM104.2 301.4h2.9v2.9h-2.9zM114.7 291.4h2.9v2.9h-2.9zM142.0 278.9h2.9v2.9h-2.9zM256.4 305.4h2.9v2.9h-2.9zM237.2 337.9h2.9v2.9h-2.9zM266.5 317.6h2.9v2.9h-2.9zM245.4 322.9h2.9v2.9h-2.9zM98.8 311.7h2.9v2.9h-2.9zM241.2 317.3h2.9v2.9h-2.9zM249.0 324.7h2.9v2.9h-2.9zM242.3 323.0h2.9v2.9h-2.9zM243.8 321.6h2.9v2.9h-2.9zM115.6 321.6h2.9v2.9h-2.9zM255.8 316.6h2.9v2.9h-2.9zM106.6 321.8h2.9v2.9h-2.9zM237.0 315.3h2.9v2.9h-2.9zM107.9 303.6h2.9v2.9h-2.9zM251.5 314.0h2.9v2.9h-2.9zM104.8 308.7h2.9v2.9h-2.9zM252.0 301.5h2.9v2.9h-2.9zM237.6 300.5h2.9v2.9h-2.9zM235.4 329.5h2.9v2.9h-2.9zM96.9 314.3h2.9v2.9h-2.9zM108.9 335.4h2.9v2.9h-2.9zM259.4 317.8h2.9v2.9h-2.9zM96.5 323.1h2.9v2.9h-2.9zM255.4 310.4h2.9v2.9h-2.9zM234.5 312.0h2.9v2.9h-2.9zM115.6 346.8h2.9v2.9h-2.9zM95.8 323.7h2.9v2.9h-2.9zM252.0 322.5h2.9v2.9h-2.9zM255.9 318.1h2.9v2.9h-2.9zM258.3 308.6h2.9v2.9h-2.9zM235.4 330.0h2.9v2.9h-2.9zM236.0 285.6h2.9v2.9h-2.9zM241.3 302.6h2.9v2.9h-2.9zM253.6 309.5h2.9v2.9h-2.9zM238.2 342.7h2.9v2.9h-2.9zM107.1 331.7h2.9v2.9h-2.9zM238.4 307.8h2.9v2.9h-2.9zM96.1 320.6h2.9v2.9h-2.9zM233.7 303.4h2.9v2.9h-2.9zM253.7 319.2h2.9v2.9h-2.9zM253.9 327.3h2.9v2.9h-2.9zM241.1 295.7h2.9v2.9h-2.9zM259.5 313.3h2.9v2.9h-2.9zM239.8 331.4h2.9v2.9h-2.9zM111.0 296.6h2.9v2.9h-2.9zM260.7 318.4h2.9v2.9h-2.9zM259.5 313.2h2.9v2.9h-2.9zM249.9 310.0h2.9v2.9h-2.9zM256.9 308.7h2.9v2.9h-2.9zM108.5 329.3h2.9v2.9h-2.9zM265.4 316.5h2.9v2.9h-2.9zM258.4 315.2h2.9v2.9h-2.9zM96.8 312.1h2.9v2.9h-2.9zM260.6 315.6h2.9v2.9h-2.9zM113.4 303.0h2.9v2.9h-2.9zM243.9 326.3h2.9v2.9h-2.9zM111.9 317.6h2.9v2.9h-2.9zM93.0 310.2h2.9v2.9h-2.9zM109.1 335.4h2.9v2.9h-2.9zM238.8 331.5h2.9v2.9h-2.9zM265.8 313.3h2.9v2.9h-2.9zM95.3 314.1h2.9v2.9h-2.9zM88.0 316.9h2.9v2.9h-2.9zM102.9 323.6h2.9v2.9h-2.9zM95.8 324.3h2.9v2.9h-2.9zM102.6 314.9h2.9v2.9h-2.9zM254.7 306.5h2.9v2.9h-2.9zM121.2 343.5h2.9v2.9h-2.9zM105.1 314.3h2.9v2.9h-2.9zM120.3 295.9h2.9v2.9h-2.9zM106.0 300.5h2.9v2.9h-2.9zM245.7 324.5h2.9v2.9h-2.9zM116.9 341.0h2.9v2.9h-2.9zM97.8 310.2h2.9v2.9h-2.9zM263.7 312.4h2.9v2.9h-2.9zM253.6 319.6h2.9v2.9h-2.9zM264.2 317.7h2.9v2.9h-2.9zM245.4 336.1h2.9v2.9h-2.9zM99.3 312.6h2.9v2.9h-2.9zM117.6 347.8h2.9v2.9h-2.9zM105.0 303.1h2.9v2.9h-2.9zM247.1 340.7h2.9v2.9h-2.9zM94.7 312.5h2.9v2.9h-2.9zM253.4 317.1h2.9v2.9h-2.9zM250.6 301.0h2.9v2.9h-2.9zM104.6 330.6h2.9v2.9h-2.9zM101.1 310.9h2.9v2.9h-2.9zM247.7 326.1h2.9v2.9h-2.9zM263.5 313.3h2.9v2.9h-2.9zM248.9 303.4h2.9v2.9h-2.9zM118.4 338.7h2.9v2.9h-2.9zM100.2 306.3h2.9v2.9h-2.9zM241.1 289.8h2.9v2.9h-2.9zM88.0 320.7h2.9v2.9h-2.9zM246.1 307.4h2.9v2.9h-2.9zM266.2 324.0h2.9v2.9h-2.9zM89.8 314.7h2.9v2.9h-2.9zM266.5 315.1h2.9v2.9h-2.9zM234.7 347.6h2.9v2.9h-2.9zM112.8 289.3h2.9v2.9h-2.9zM240.7 327.6h2.9v2.9h-2.9zM106.6 302.8h2.9v2.9h-2.9zM265.2 314.6h2.9v2.9h-2.9zM236.1 310.0h2.9v2.9h-2.9zM237.6 325.8h2.9v2.9h-2.9zM89.6 315.7h2.9v2.9h-2.9zM259.7 314.1h2.9v2.9h-2.9zM111.0 305.1h2.9v2.9h-2.9zM234.3 311.9h2.9v2.9h-2.9zM264.2 319.7h2.9v2.9h-2.9zM100.1 313.7h2.9v2.9h-2.9zM110.7 299.5h2.9v2.9h-2.9zM250.2 324.9h2.9v2.9h-2.9zM253.1 309.9h2.9v2.9h-2.9zM120.4 345.6h2.9v2.9h-2.9zM239.0 288.1h2.9v2.9h-2.9zM87.7 317.6h2.9v2.9h-2.9zM96.3 318.3h2.9v2.9h-2.9zM115.9 309.9h2.9v2.9h-2.9zM249.8 308.0h2.9v2.9h-2.9zM109.0 305.0h2.9v2.9h-2.9zM102.7 329.0h2.9v2.9h-2.9zM116.5 344.1h2.9v2.9h-2.9zM254.7 310.1h2.9v2.9h-2.9zM93.7 317.7h2.9v2.9h-2.9zM267.5 316.8h2.9v2.9h-2.9zM235.4 302.0h2.9v2.9h-2.9zM94.4 316.7h2.9v2.9h-2.9zM92.4 304.9h2.9v2.9h-2.9zM101.3 323.2h2.9v2.9h-2.9zM95.5 315.8h2.9v2.9h-2.9zM237.6 331.9h2.9v2.9h-2.9zM115.3 337.8h2.9v2.9h-2.9zM266.9 317.7h2.9v2.9h-2.9zM91.6 320.9h2.9v2.9h-2.9zM247.8 311.7h2.9v2.9h-2.9zM113.2 329.6h2.9v2.9h-2.9zM256.7 309.9h2.9v2.9h-2.9zM242.5 331.2h2.9v2.9h-2.9zM238.1 300.5h2.9v2.9h-2.9zM111.6 298.9h2.9v2.9h-2.9zM247.1 310.9h2.9v2.9h-2.9zM265.9 317.0h2.9v2.9h-2.9zM238.2 342.2h2.9v2.9h-2.9zM88.4 318.9h2.9v2.9h-2.9zM259.7 321.7h2.9v2.9h-2.9zM112.9 337.6h2.9v2.9h-2.9zM107.6 331.6h2.9v2.9h-2.9zM88.9 319.5h2.9v2.9h-2.9zM93.6 319.6h2.9v2.9h-2.9zM116.4 341.7h2.9v2.9h-2.9z" fill="#f00000" clip-path="url(#cb)"/>
<path d="M92.91 318.00 L179.00 236.50 L265.09 318.00 L179.00 399.50Z" fill="none" stroke="#000080" stroke-width="1"/>
<path d="M43.50 318.50 L92.91 318.20" stroke="#8a0818" stroke-width="1.3" fill="none" stroke-linejoin="round"/>
<path d="M265.09 318.20 L314.50 318.50" stroke="#8a0818" stroke-width="1.3" fill="none" stroke-linejoin="round"/>
<rect x="43.5" y="236.5" width="271.0" height="163.0" stroke="#666" stroke-width="1" fill="none"/>
<path d="M392.50 171.5v-3M392.50 8.5v3M403.79 171.5v-1.6M403.79 8.5v1.6M415.08 171.5v-1.6M415.08 8.5v1.6M426.38 171.5v-3M426.38 8.5v3M437.67 171.5v-1.6M437.67 8.5v1.6M448.96 171.5v-1.6M448.96 8.5v1.6M460.25 171.5v-3M460.25 8.5v3M471.54 171.5v-1.6M471.54 8.5v1.6M482.83 171.5v-1.6M482.83 8.5v1.6M494.12 171.5v-3M494.12 8.5v3M505.42 171.5v-1.6M505.42 8.5v1.6M516.71 171.5v-1.6M516.71 8.5v1.6M528.00 171.5v-3M528.00 8.5v3M539.29 171.5v-1.6M539.29 8.5v1.6M550.58 171.5v-1.6M550.58 8.5v1.6M561.88 171.5v-3M561.88 8.5v3M573.17 171.5v-1.6M573.17 8.5v1.6M584.46 171.5v-1.6M584.46 8.5v1.6M595.75 171.5v-3M595.75 8.5v3M607.04 171.5v-1.6M607.04 8.5v1.6M618.33 171.5v-1.6M618.33 8.5v1.6M629.62 171.5v-3M629.62 8.5v3M640.92 171.5v-1.6M640.92 8.5v1.6M652.21 171.5v-1.6M652.21 8.5v1.6M663.50 171.5v-3M663.50 8.5v3M392.5 171.50h3M663.5 171.50h-3M392.5 155.20h1.6M663.5 155.20h-1.6M392.5 138.90h3M663.5 138.90h-3M392.5 122.60h1.6M663.5 122.60h-1.6M392.5 106.30h3M663.5 106.30h-3M392.5 90.00h1.6M663.5 90.00h-1.6M392.5 73.70h3M663.5 73.70h-3M392.5 57.40h1.6M663.5 57.40h-1.6M392.5 41.10h3M663.5 41.10h-3M392.5 24.80h1.6M663.5 24.80h-1.6M392.5 8.50h3M663.5 8.50h-3" stroke="#666" stroke-width="1" fill="none"/>
<rect x="392.5" y="8.5" width="271.0" height="163.0" stroke="#666" stroke-width="1" fill="none"/>
<circle cx="394.10" cy="14.90" r="2.3" fill="#000080"/>
<circle cx="399.23" cy="27.60" r="2.3" fill="#000080"/>
<circle cx="404.36" cy="39.40" r="2.3" fill="#000080"/>
<circle cx="409.49" cy="62.40" r="2.3" fill="#000080"/>
<circle cx="414.62" cy="84.00" r="2.3" fill="#000080"/>
<circle cx="419.75" cy="113.00" r="2.3" fill="#000080"/>
<circle cx="424.88" cy="134.70" r="2.3" fill="#000080"/>
<circle cx="430.01" cy="151.30" r="2.3" fill="#000080"/>
<circle cx="435.14" cy="164.20" r="2.3" fill="#000080"/>
<circle cx="440.27" cy="160.30" r="2.3" fill="#000080"/>
<circle cx="445.40" cy="151.30" r="2.3" fill="#000080"/>
<circle cx="450.53" cy="136.30" r="2.3" fill="#000080"/>
<circle cx="455.66" cy="113.00" r="2.3" fill="#000080"/>
<circle cx="460.79" cy="79.40" r="2.3" fill="#000080"/>
<circle cx="465.92" cy="65.80" r="2.3" fill="#000080"/>
<circle cx="471.05" cy="38.60" r="2.3" fill="#000080"/>
<circle cx="476.18" cy="21.40" r="2.3" fill="#000080"/>
<circle cx="481.31" cy="18.70" r="2.3" fill="#000080"/>
<circle cx="486.44" cy="16.60" r="2.3" fill="#000080"/>
<circle cx="491.57" cy="25.30" r="2.3" fill="#000080"/>
<circle cx="496.70" cy="49.00" r="2.3" fill="#000080"/>
<circle cx="501.83" cy="73.80" r="2.3" fill="#000080"/>
<circle cx="506.96" cy="92.60" r="2.3" fill="#000080"/>
<circle cx="512.09" cy="115.60" r="2.3" fill="#000080"/>
<circle cx="517.22" cy="138.10" r="2.3" fill="#000080"/>
<circle cx="522.35" cy="157.50" r="2.3" fill="#000080"/>
<circle cx="527.48" cy="165.50" r="2.3" fill="#000080"/>
<circle cx="532.61" cy="162.70" r="2.3" fill="#000080"/>
<circle cx="537.74" cy="151.00" r="2.3" fill="#000080"/>
<circle cx="542.87" cy="129.00" r="2.3" fill="#000080"/>
<circle cx="548.00" cy="104.00" r="2.3" fill="#000080"/>
<circle cx="553.13" cy="81.40" r="2.3" fill="#000080"/>
<circle cx="558.26" cy="48.90" r="2.3" fill="#000080"/>
<circle cx="563.39" cy="36.70" r="2.3" fill="#000080"/>
<circle cx="568.52" cy="22.00" r="2.3" fill="#000080"/>
<circle cx="573.65" cy="16.60" r="2.3" fill="#000080"/>
<circle cx="578.78" cy="16.40" r="2.3" fill="#000080"/>
<circle cx="583.91" cy="29.30" r="2.3" fill="#000080"/>
<circle cx="589.04" cy="50.10" r="2.3" fill="#000080"/>
<circle cx="594.17" cy="66.80" r="2.3" fill="#000080"/>
<circle cx="599.30" cy="93.80" r="2.3" fill="#000080"/>
<circle cx="604.43" cy="116.60" r="2.3" fill="#000080"/>
<circle cx="609.56" cy="140.40" r="2.3" fill="#000080"/>
<circle cx="614.69" cy="157.70" r="2.3" fill="#000080"/>
<circle cx="619.82" cy="164.90" r="2.3" fill="#000080"/>
<circle cx="624.95" cy="163.90" r="2.3" fill="#000080"/>
<circle cx="630.08" cy="154.10" r="2.3" fill="#000080"/>
<circle cx="635.21" cy="140.40" r="2.3" fill="#000080"/>
<circle cx="640.34" cy="114.80" r="2.3" fill="#000080"/>
<circle cx="645.47" cy="82.60" r="2.3" fill="#000080"/>
<circle cx="650.60" cy="64.10" r="2.3" fill="#000080"/>
<circle cx="655.73" cy="33.00" r="2.3" fill="#000080"/>
<circle cx="660.86" cy="20.00" r="2.3" fill="#000080"/>
<path d="M392.50 15.97 L393.18 16.26 L393.86 16.71 L394.53 17.31 L395.21 18.06 L395.89 18.97 L396.56 20.03 L397.24 21.24 L397.92 22.59 L398.60 24.09 L399.27 25.72 L399.95 27.50 L400.63 29.40 L401.31 31.44 L401.99 33.60 L402.66 35.87 L403.34 38.27 L404.02 40.77 L404.69 43.38 L405.37 46.08 L406.05 48.88 L406.73 51.77 L407.40 54.74 L408.08 57.78 L408.76 60.90 L409.44 64.07 L410.12 67.30 L410.79 70.58 L411.47 73.89 L412.15 77.25 L412.82 80.63 L413.50 84.02 L414.18 87.44 L414.86 90.85 L415.53 94.27 L416.21 97.68 L416.89 101.07 L417.57 104.43 L418.25 107.77 L418.92 111.07 L419.60 114.32 L420.28 117.52 L420.95 120.67 L421.63 123.75 L422.31 126.75 L422.99 129.68 L423.67 132.53 L424.34 135.28 L425.02 137.94 L425.70 140.49 L426.38 142.94 L427.05 145.28 L427.73 147.50 L428.41 149.60 L429.08 151.57 L429.76 153.41 L430.44 155.11 L431.12 156.68 L431.80 158.10 L432.47 159.38 L433.15 160.52 L433.83 161.50 L434.50 162.33 L435.18 163.01 L435.86 163.53 L436.54 163.90 L437.22 164.11 L437.89 164.16 L438.57 164.06 L439.25 163.80 L439.93 163.38 L440.60 162.80 L441.28 162.07 L441.96 161.19 L442.63 160.16 L443.31 158.97 L443.99 157.64 L444.67 156.17 L445.35 154.56 L446.02 152.81 L446.70 150.92 L447.38 148.91 L448.06 146.77 L448.73 144.51 L449.41 142.14 L450.09 139.65 L450.76 137.06 L451.44 134.37 L452.12 131.59 L452.80 128.71 L453.48 125.76 L454.15 122.73 L454.83 119.63 L455.51 116.46 L456.19 113.24 L456.86 109.97 L457.54 106.66 L458.22 103.31 L458.89 99.94 L459.57 96.54 L460.25 93.13 L460.93 89.72 L461.61 86.30 L462.28 82.89 L462.96 79.50 L463.64 76.13 L464.31 72.78 L464.99 69.48 L465.67 66.22 L466.35 63.01 L467.02 59.85 L467.70 56.76 L468.38 53.74 L469.06 50.80 L469.74 47.94 L470.41 45.17 L471.09 42.50 L471.77 39.92 L472.44 37.46 L473.12 35.10 L473.80 32.86 L474.48 30.74 L475.15 28.75 L475.83 26.89 L476.51 25.16 L477.19 23.57 L477.87 22.12 L478.54 20.82 L479.22 19.66 L479.90 18.65 L480.57 17.80 L481.25 17.09 L481.93 16.54 L482.61 16.15 L483.28 15.91 L483.96 15.83 L484.64 15.91 L485.32 16.15 L486.00 16.54 L486.67 17.09 L487.35 17.80 L488.03 18.65 L488.70 19.66 L489.38 20.82 L490.06 22.12 L490.74 23.57 L491.41 25.16 L492.09 26.89 L492.77 28.75 L493.45 30.74 L494.12 32.86 L494.80 35.10 L495.48 37.46 L496.16 39.92 L496.84 42.50 L497.51 45.17 L498.19 47.94 L498.87 50.80 L499.55 53.74 L500.22 56.76 L500.90 59.85 L501.58 63.01 L502.25 66.22 L502.93 69.48 L503.61 72.78 L504.29 76.13 L504.97 79.50 L505.64 82.89 L506.32 86.30 L507.00 89.72 L507.68 93.13 L508.35 96.54 L509.03 99.94 L509.71 103.31 L510.38 106.66 L511.06 109.97 L511.74 113.24 L512.42 116.46 L513.10 119.63 L513.77 122.73 L514.45 125.76 L515.13 128.71 L515.81 131.59 L516.48 134.37 L517.16 137.06 L517.84 139.65 L518.51 142.14 L519.19 144.51 L519.87 146.77 L520.55 148.91 L521.23 150.92 L521.90 152.81 L522.58 154.56 L523.26 156.17 L523.93 157.64 L524.61 158.97 L525.29 160.16 L525.97 161.19 L526.64 162.07 L527.32 162.80 L528.00 163.38 L528.68 163.80 L529.36 164.06 L530.03 164.16 L530.71 164.11 L531.39 163.90 L532.07 163.53 L532.74 163.01 L533.42 162.33 L534.10 161.50 L534.77 160.52 L535.45 159.38 L536.13 158.10 L536.81 156.68 L537.49 155.11 L538.16 153.41 L538.84 151.57 L539.52 149.60 L540.19 147.50 L540.87 145.28 L541.55 142.94 L542.23 140.49 L542.90 137.94 L543.58 135.28 L544.26 132.53 L544.94 129.68 L545.62 126.75 L546.29 123.75 L546.97 120.67 L547.65 117.52 L548.33 114.32 L549.00 111.07 L549.68 107.77 L550.36 104.43 L551.04 101.07 L551.71 97.68 L552.39 94.27 L553.07 90.85 L553.75 87.44 L554.42 84.02 L555.10 80.63 L555.78 77.25 L556.45 73.89 L557.13 70.58 L557.81 67.30 L558.49 64.07 L559.16 60.90 L559.84 57.78 L560.52 54.74 L561.20 51.77 L561.88 48.88 L562.55 46.08 L563.23 43.38 L563.91 40.77 L564.59 38.27 L565.26 35.87 L565.94 33.60 L566.62 31.44 L567.29 29.40 L567.97 27.50 L568.65 25.72 L569.33 24.09 L570.00 22.59 L570.68 21.24 L571.36 20.03 L572.04 18.97 L572.71 18.06 L573.39 17.31 L574.07 16.71 L574.75 16.26 L575.42 15.97 L576.10 15.84 L576.78 15.87 L577.46 16.05 L578.13 16.39 L578.81 16.89 L579.49 17.54 L580.17 18.35 L580.85 19.31 L581.52 20.42 L582.20 21.67 L582.88 23.07 L583.55 24.62 L584.23 26.30 L584.91 28.12 L585.59 30.07 L586.26 32.14 L586.94 34.34 L587.62 36.66 L588.30 39.09 L588.98 41.63 L589.65 44.27 L590.33 47.01 L591.01 49.84 L591.68 52.75 L592.36 55.75 L593.04 58.81 L593.72 61.95 L594.39 65.14 L595.07 68.39 L595.75 71.68 L596.43 75.01 L597.11 78.37 L597.78 81.76 L598.46 85.16 L599.14 88.58 L599.82 91.99 L600.49 95.41 L601.17 98.81 L601.85 102.19 L602.52 105.55 L603.20 108.87 L603.88 112.16 L604.56 115.40 L605.24 118.58 L605.91 121.70 L606.59 124.76 L607.27 127.74 L607.95 130.64 L608.62 133.45 L609.30 136.18 L609.98 138.80 L610.65 141.32 L611.33 143.74 L612.01 146.03 L612.69 148.21 L613.37 150.27 L614.04 152.19 L614.72 153.99 L615.40 155.65 L616.08 157.17 L616.75 158.55 L617.43 159.78 L618.11 160.86 L618.79 161.80 L619.46 162.58 L620.14 163.20 L620.82 163.67 L621.50 163.99 L622.17 164.15 L622.85 164.15 L623.53 163.99 L624.21 163.67 L624.88 163.20 L625.56 162.58 L626.24 161.80 L626.91 160.86 L627.59 159.78 L628.27 158.55 L628.95 157.17 L629.62 155.65 L630.30 153.99 L630.98 152.19 L631.66 150.27 L632.34 148.21 L633.01 146.03 L633.69 143.74 L634.37 141.32 L635.04 138.80 L635.72 136.18 L636.40 133.45 L637.08 130.64 L637.75 127.74 L638.43 124.76 L639.11 121.70 L639.79 118.58 L640.46 115.40 L641.14 112.16 L641.82 108.87 L642.50 105.55 L643.18 102.19 L643.85 98.81 L644.53 95.41 L645.21 91.99 L645.88 88.58 L646.56 85.16 L647.24 81.76 L647.92 78.37 L648.60 75.01 L649.27 71.68 L649.95 68.39 L650.63 65.14 L651.31 61.95 L651.98 58.81 L652.66 55.75 L653.34 52.75 L654.01 49.84 L654.69 47.01 L655.37 44.27 L656.05 41.63 L656.72 39.09 L657.40 36.66 L658.08 34.34 L658.76 32.14 L659.43 30.07 L660.11 28.12 L660.79 26.30 L661.47 24.62 L662.14 23.07 L662.82 21.67 L663.50 20.42" stroke="#dc2c2c" stroke-width="1.15" fill="none" stroke-linejoin="round"/>
<path d="M392.50 399.5v-3M392.50 236.5v3M407.56 399.5v-1.6M407.56 236.5v1.6M422.61 399.5v-1.6M422.61 236.5v1.6M437.67 399.5v-3M437.67 236.5v3M452.72 399.5v-1.6M452.72 236.5v1.6M467.78 399.5v-1.6M467.78 236.5v1.6M482.83 399.5v-3M482.83 236.5v3M497.89 399.5v-1.6M497.89 236.5v1.6M512.94 399.5v-1.6M512.94 236.5v1.6M528.00 399.5v-3M528.00 236.5v3M543.06 399.5v-1.6M543.06 236.5v1.6M558.11 399.5v-1.6M558.11 236.5v1.6M573.17 399.5v-3M573.17 236.5v3M588.22 399.5v-1.6M588.22 236.5v1.6M603.28 399.5v-1.6M603.28 236.5v1.6M618.33 399.5v-3M618.33 236.5v3M633.39 399.5v-1.6M633.39 236.5v1.6M648.44 399.5v-1.6M648.44 236.5v1.6M663.50 399.5v-3M663.50 236.5v3M392.5 399.50h3M663.5 399.50h-3M392.5 383.20h1.6M663.5 383.20h-1.6M392.5 366.90h3M663.5 366.90h-3M392.5 350.60h1.6M663.5 350.60h-1.6M392.5 334.30h3M663.5 334.30h-3M392.5 318.00h1.6M663.5 318.00h-1.6M392.5 301.70h3M663.5 301.70h-3M392.5 285.40h1.6M663.5 285.40h-1.6M392.5 269.10h3M663.5 269.10h-3M392.5 252.80h1.6M663.5 252.80h-1.6M392.5 236.50h3M663.5 236.50h-3" stroke="#666" stroke-width="1" fill="none"/>
<rect x="392.5" y="236.5" width="271.0" height="163.0" stroke="#666" stroke-width="1" fill="none"/>
<path d="M390.50 311.50h4.0v4.0h-4.0zM405.56 290.50h4.0v4.0h-4.0zM420.61 263.80h4.0v4.0h-4.0zM435.67 250.20h4.0v4.0h-4.0zM450.72 243.30h4.0v4.0h-4.0zM465.78 244.10h4.0v4.0h-4.0zM480.83 249.70h4.0v4.0h-4.0zM495.89 265.10h4.0v4.0h-4.0zM510.94 285.60h4.0v4.0h-4.0zM526.00 315.00h4.0v4.0h-4.0zM541.06 344.50h4.0v4.0h-4.0zM556.11 362.40h4.0v4.0h-4.0zM571.17 384.80h4.0v4.0h-4.0zM586.22 391.90h4.0v4.0h-4.0zM601.28 392.60h4.0v4.0h-4.0zM616.33 383.40h4.0v4.0h-4.0zM631.39 368.80h4.0v4.0h-4.0zM646.44 339.00h4.0v4.0h-4.0zM661.50 316.40h4.0v4.0h-4.0z" fill="#000080"/>
<path d="M392.50 318.00 L393.40 316.40 L394.31 314.79 L395.21 313.19 L396.11 311.59 L397.02 309.99 L397.92 308.40 L398.82 306.81 L399.73 305.22 L400.63 303.64 L401.53 302.07 L402.44 300.51 L403.34 298.95 L404.24 297.40 L405.15 295.86 L406.05 294.33 L406.95 292.81 L407.86 291.30 L408.76 289.80 L409.66 288.31 L410.57 286.84 L411.47 285.38 L412.37 283.94 L413.28 282.51 L414.18 281.09 L415.08 279.69 L415.99 278.31 L416.89 276.95 L417.79 275.60 L418.70 274.28 L419.60 272.97 L420.50 271.68 L421.41 270.41 L422.31 269.17 L423.21 267.94 L424.12 266.74 L425.02 265.56 L425.92 264.40 L426.83 263.26 L427.73 262.15 L428.63 261.07 L429.54 260.01 L430.44 258.97 L431.34 257.96 L432.25 256.98 L433.15 256.02 L434.05 255.09 L434.96 254.19 L435.86 253.32 L436.76 252.47 L437.67 251.65 L438.57 250.87 L439.47 250.11 L440.38 249.38 L441.28 248.68 L442.18 248.01 L443.09 247.38 L443.99 246.77 L444.89 246.19 L445.80 245.65 L446.70 245.14 L447.60 244.66 L448.51 244.21 L449.41 243.80 L450.31 243.41 L451.22 243.06 L452.12 242.75 L453.02 242.46 L453.93 242.21 L454.83 241.99 L455.73 241.81 L456.64 241.66 L457.54 241.54 L458.44 241.46 L459.35 241.41 L460.25 241.39 L461.15 241.41 L462.06 241.46 L462.96 241.54 L463.86 241.66 L464.77 241.81 L465.67 241.99 L466.57 242.21 L467.48 242.46 L468.38 242.75 L469.28 243.06 L470.19 243.41 L471.09 243.80 L471.99 244.21 L472.90 244.66 L473.80 245.14 L474.70 245.65 L475.61 246.19 L476.51 246.77 L477.41 247.38 L478.32 248.01 L479.22 248.68 L480.12 249.38 L481.03 250.11 L481.93 250.87 L482.83 251.65 L483.74 252.47 L484.64 253.32 L485.54 254.19 L486.45 255.09 L487.35 256.02 L488.25 256.98 L489.16 257.96 L490.06 258.97 L490.96 260.01 L491.87 261.07 L492.77 262.15 L493.67 263.26 L494.58 264.40 L495.48 265.56 L496.38 266.74 L497.29 267.94 L498.19 269.17 L499.09 270.41 L500.00 271.68 L500.90 272.97 L501.80 274.28 L502.71 275.60 L503.61 276.95 L504.51 278.31 L505.42 279.69 L506.32 281.09 L507.22 282.51 L508.13 283.94 L509.03 285.38 L509.93 286.84 L510.84 288.31 L511.74 289.80 L512.64 291.30 L513.55 292.81 L514.45 294.33 L515.35 295.86 L516.26 297.40 L517.16 298.95 L518.06 300.51 L518.97 302.07 L519.87 303.64 L520.77 305.22 L521.68 306.81 L522.58 308.40 L523.48 309.99 L524.39 311.59 L525.29 313.19 L526.19 314.79 L527.10 316.40 L528.00 318.00 L528.90 319.60 L529.81 321.21 L530.71 322.81 L531.61 324.41 L532.52 326.01 L533.42 327.60 L534.32 329.19 L535.23 330.78 L536.13 332.36 L537.03 333.93 L537.94 335.49 L538.84 337.05 L539.74 338.60 L540.65 340.14 L541.55 341.67 L542.45 343.19 L543.36 344.70 L544.26 346.20 L545.16 347.69 L546.07 349.16 L546.97 350.62 L547.87 352.06 L548.78 353.49 L549.68 354.91 L550.58 356.31 L551.49 357.69 L552.39 359.05 L553.29 360.40 L554.20 361.72 L555.10 363.03 L556.00 364.32 L556.91 365.59 L557.81 366.83 L558.71 368.06 L559.62 369.26 L560.52 370.44 L561.42 371.60 L562.33 372.74 L563.23 373.85 L564.13 374.93 L565.04 375.99 L565.94 377.03 L566.84 378.04 L567.75 379.02 L568.65 379.98 L569.55 380.91 L570.46 381.81 L571.36 382.68 L572.26 383.53 L573.17 384.35 L574.07 385.13 L574.97 385.89 L575.88 386.62 L576.78 387.32 L577.68 387.99 L578.59 388.62 L579.49 389.23 L580.39 389.81 L581.30 390.35 L582.20 390.86 L583.10 391.34 L584.01 391.79 L584.91 392.20 L585.81 392.59 L586.72 392.94 L587.62 393.25 L588.52 393.54 L589.43 393.79 L590.33 394.01 L591.23 394.19 L592.14 394.34 L593.04 394.46 L593.94 394.54 L594.85 394.59 L595.75 394.61 L596.65 394.59 L597.56 394.54 L598.46 394.46 L599.36 394.34 L600.27 394.19 L601.17 394.01 L602.07 393.79 L602.98 393.54 L603.88 393.25 L604.78 392.94 L605.69 392.59 L606.59 392.20 L607.49 391.79 L608.40 391.34 L609.30 390.86 L610.20 390.35 L611.11 389.81 L612.01 389.23 L612.91 388.62 L613.82 387.99 L614.72 387.32 L615.62 386.62 L616.53 385.89 L617.43 385.13 L618.33 384.35 L619.24 383.53 L620.14 382.68 L621.04 381.81 L621.95 380.91 L622.85 379.98 L623.75 379.02 L624.66 378.04 L625.56 377.03 L626.46 375.99 L627.37 374.93 L628.27 373.85 L629.17 372.74 L630.08 371.60 L630.98 370.44 L631.88 369.26 L632.79 368.06 L633.69 366.83 L634.59 365.59 L635.50 364.32 L636.40 363.03 L637.30 361.72 L638.21 360.40 L639.11 359.05 L640.01 357.69 L640.92 356.31 L641.82 354.91 L642.72 353.49 L643.63 352.06 L644.53 350.62 L645.43 349.16 L646.34 347.69 L647.24 346.20 L648.14 344.70 L649.05 343.19 L649.95 341.67 L650.85 340.14 L651.76 338.60 L652.66 337.05 L653.56 335.49 L654.47 333.93 L655.37 332.36 L656.27 330.78 L657.18 329.19 L658.08 327.60 L658.98 326.01 L659.89 324.41 L660.79 322.81 L661.69 321.21 L662.60 319.60 L663.50 318.00" stroke="#dc2c2c" stroke-width="1.15" fill="none" stroke-linejoin="round"/>
<text x="591.22" y="263.60" class="th" style="font-size:11.90px">&#952;</text>
<text x="596.22" y="268.00" class="lg" style="font-size:7.49px;fill:#333">P1</text>
<text transform="translate(607.26,264.25) scale(1.1,1)" class="lg" style="font-size:11.90px">@</text>
<text transform="translate(622.62,263.30) scale(1.01,1)" class="lg" style="font-size:10.56px">+45</text>
<text x="641.43" y="257.44" class="lg" style="font-size:6.91px">o</text>
<text transform="translate(40.30,174.40) scale(1.05,1)" text-anchor="end" class="t">0.0</text>
<text transform="translate(40.30,141.80) scale(1.05,1)" text-anchor="end" class="t">0.2</text>
<text transform="translate(40.30,109.20) scale(1.05,1)" text-anchor="end" class="t">0.4</text>
<text transform="translate(40.30,76.60) scale(1.05,1)" text-anchor="end" class="t">0.6</text>
<text transform="translate(40.30,44.00) scale(1.05,1)" text-anchor="end" class="t">0.8</text>
<text transform="translate(40.30,11.40) scale(1.05,1)" text-anchor="end" class="t">1.0</text>
<text transform="translate(43.50,183.50) scale(1.05,1)" text-anchor="middle" class="t">-1.5</text>
<text transform="translate(88.67,183.50) scale(1.05,1)" text-anchor="middle" class="t">-1.0</text>
<text transform="translate(133.83,183.50) scale(1.05,1)" text-anchor="middle" class="t">-0.5</text>
<text transform="translate(179.00,183.50) scale(1.05,1)" text-anchor="middle" class="t">0.0</text>
<text transform="translate(224.17,183.50) scale(1.05,1)" text-anchor="middle" class="t">0.5</text>
<text transform="translate(269.33,183.50) scale(1.05,1)" text-anchor="middle" class="t">1.0</text>
<text transform="translate(314.50,183.50) scale(1.05,1)" text-anchor="middle" class="t">1.5</text>
<text transform="translate(40.30,402.40) scale(1.05,1)" text-anchor="end" class="t">0.0</text>
<text transform="translate(40.30,369.80) scale(1.05,1)" text-anchor="end" class="t">0.2</text>
<text transform="translate(40.30,337.20) scale(1.05,1)" text-anchor="end" class="t">0.4</text>
<text transform="translate(40.30,304.60) scale(1.05,1)" text-anchor="end" class="t">0.6</text>
<text transform="translate(40.30,272.00) scale(1.05,1)" text-anchor="end" class="t">0.8</text>
<text transform="translate(40.30,239.40) scale(1.05,1)" text-anchor="end" class="t">1.0</text>
<text transform="translate(43.50,411.50) scale(1.05,1)" text-anchor="middle" class="t">-1.5</text>
<text transform="translate(88.67,411.50) scale(1.05,1)" text-anchor="middle" class="t">-1.0</text>
<text transform="translate(133.83,411.50) scale(1.05,1)" text-anchor="middle" class="t">-0.5</text>
<text transform="translate(179.00,411.50) scale(1.05,1)" text-anchor="middle" class="t">0.0</text>
<text transform="translate(224.17,411.50) scale(1.05,1)" text-anchor="middle" class="t">0.5</text>
<text transform="translate(269.33,411.50) scale(1.05,1)" text-anchor="middle" class="t">1.0</text>
<text transform="translate(314.50,411.50) scale(1.05,1)" text-anchor="middle" class="t">1.5</text>
<text transform="translate(389.30,174.40) scale(1.05,1)" text-anchor="end" class="t">0.0</text>
<text transform="translate(389.30,141.80) scale(1.05,1)" text-anchor="end" class="t">0.2</text>
<text transform="translate(389.30,109.20) scale(1.05,1)" text-anchor="end" class="t">0.4</text>
<text transform="translate(389.30,76.60) scale(1.05,1)" text-anchor="end" class="t">0.6</text>
<text transform="translate(389.30,44.00) scale(1.05,1)" text-anchor="end" class="t">0.8</text>
<text transform="translate(389.30,11.40) scale(1.05,1)" text-anchor="end" class="t">1.0</text>
<text transform="translate(392.50,183.50) scale(1.05,1)" text-anchor="middle" class="t">0.0</text>
<text transform="translate(426.38,183.50) scale(1.05,1)" text-anchor="middle" class="t">0.3</text>
<text transform="translate(460.25,183.50) scale(1.05,1)" text-anchor="middle" class="t">0.6</text>
<text transform="translate(494.12,183.50) scale(1.05,1)" text-anchor="middle" class="t">0.9</text>
<text transform="translate(528.00,183.50) scale(1.05,1)" text-anchor="middle" class="t">1.2</text>
<text transform="translate(561.88,183.50) scale(1.05,1)" text-anchor="middle" class="t">1.5</text>
<text transform="translate(595.75,183.50) scale(1.05,1)" text-anchor="middle" class="t">1.8</text>
<text transform="translate(629.62,183.50) scale(1.05,1)" text-anchor="middle" class="t">2.1</text>
<text transform="translate(663.50,183.50) scale(1.05,1)" text-anchor="middle" class="t">2.4</text>
<text transform="translate(389.30,402.40) scale(1.05,1)" text-anchor="end" class="t">0.0</text>
<text transform="translate(389.30,369.80) scale(1.05,1)" text-anchor="end" class="t">0.2</text>
<text transform="translate(389.30,337.20) scale(1.05,1)" text-anchor="end" class="t">0.4</text>
<text transform="translate(389.30,304.60) scale(1.05,1)" text-anchor="end" class="t">0.6</text>
<text transform="translate(389.30,272.00) scale(1.05,1)" text-anchor="end" class="t">0.8</text>
<text transform="translate(389.30,239.40) scale(1.05,1)" text-anchor="end" class="t">1.0</text>
<text transform="translate(392.50,411.50) scale(1.05,1)" text-anchor="middle" class="t">0</text>
<text transform="translate(437.67,411.50) scale(1.05,1)" text-anchor="middle" class="t">30</text>
<text transform="translate(482.83,411.50) scale(1.05,1)" text-anchor="middle" class="t">60</text>
<text transform="translate(528.00,411.50) scale(1.05,1)" text-anchor="middle" class="t">90</text>
<text transform="translate(573.17,411.50) scale(1.05,1)" text-anchor="middle" class="t">120</text>
<text transform="translate(618.33,411.50) scale(1.05,1)" text-anchor="middle" class="t">150</text>
<text transform="translate(663.50,411.50) scale(1.05,1)" text-anchor="middle" class="t">180</text>
<text transform="translate(13.6,90.3) rotate(-90) scale(1.055,1)" text-anchor="middle" class="ax">Coincidence probability</text>
<text transform="translate(13.6,319.2) rotate(-90) scale(1.055,1)" text-anchor="middle" class="ax">Coincidence probability</text>
<text transform="translate(362.6,90.3) rotate(-90) scale(1.055,1)" text-anchor="middle" class="ax">Coincidence probability</text>
<text transform="translate(362.6,319.2) rotate(-90) scale(1.055,1)" text-anchor="middle" class="ax">Coincidence probability</text>
<text transform="translate(69.66,207.50) scale(1.05,1)" class="ax" style="font-size:14.8px">Path-length difference</text>
<text transform="translate(227.10,207.80) scale(0.76,1)" class="ax" style="font-size:12.9px;fill:#3a3a3a">&#916;</text>
<text transform="translate(233.85,207.50) scale(1.05,1)" class="ax" style="font-size:14.8px">x</text>
<text transform="translate(243.50,213.10) scale(1.0,1)" class="ax" style="font-size:8.2px">1</text>
<text transform="translate(252.90,207.50) scale(1.05,1)" class="ax" style="font-size:14.8px">(mm)</text>
<text transform="translate(69.66,436.10) scale(1.05,1)" class="ax" style="font-size:14.8px">Path-length difference</text>
<text transform="translate(227.10,436.40) scale(0.76,1)" class="ax" style="font-size:12.9px;fill:#3a3a3a">&#916;</text>
<text transform="translate(233.85,436.10) scale(1.05,1)" class="ax" style="font-size:14.8px">x</text>
<text transform="translate(243.50,441.70) scale(1.0,1)" class="ax" style="font-size:8.2px">2</text>
<text transform="translate(252.90,436.10) scale(1.05,1)" class="ax" style="font-size:14.8px">(mm)</text>
<text transform="translate(420.76,207.30) scale(1.05,1)" class="ax" style="font-size:14.8px">Path-length difference</text>
<text transform="translate(578.20,207.60) scale(0.76,1)" class="ax" style="font-size:12.9px;fill:#3a3a3a">&#916;</text>
<text transform="translate(584.95,207.30) scale(1.05,1)" class="ax" style="font-size:14.8px">x</text>
<text transform="translate(594.60,212.90) scale(1.0,1)" class="ax" style="font-size:8.2px">3</text>
<text transform="translate(603.10,207.30) scale(1.05,1)" class="ax" style="font-size:14.8px">(&#956;m)</text>
<text transform="translate(458.50,438.80) scale(1.05,1)" class="ax" style="font-size:14.8px">P2 rotation angle</text>
<text transform="translate(580.80,438.80) scale(1.05,1)" class="ax" style="font-size:14.8px">(</text>
<text transform="translate(586.00,429.60) scale(1.0,1)" class="ax" style="font-size:8.2px">o</text>
<text transform="translate(592.20,438.80) scale(1.05,1)" class="ax" style="font-size:14.8px">)</text>
<text transform="translate(49.30,159.80) scale(1.03,1)" text-anchor="start" class="pl">(a)</text>
<text transform="translate(49.30,387.80) scale(1.03,1)" text-anchor="start" class="pl">(b)</text>
<text transform="translate(398.30,159.80) scale(1.03,1)" text-anchor="start" class="pl">(c)</text>
<text transform="translate(398.30,387.80) scale(1.03,1)" text-anchor="start" class="pl">(d)</text>
</svg></body></html>
